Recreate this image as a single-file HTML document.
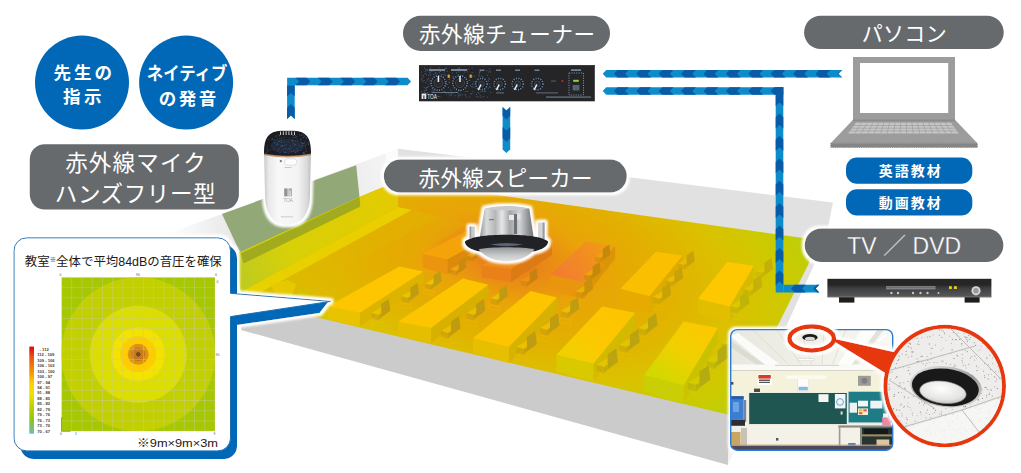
<!DOCTYPE html>
<html lang="ja"><head><meta charset="utf-8"><title>赤外線システム</title>
<style>
html,body{margin:0;padding:0;background:#fff;}
body{width:1021px;height:473px;overflow:hidden;font-family:"Liberation Sans","Noto Sans CJK JP",sans-serif;}
svg{display:block}
text{font-family:"Liberation Sans","Noto Sans CJK JP",sans-serif;}
.lt{font-weight:400;fill:#fff;}
.bd{font-weight:700;fill:#fff;}
</style></head><body>
<svg width="1021" height="473" viewBox="0 0 1021 473">
<defs>
<radialGradient id="heat" cx="0" cy="0" r="1" gradientUnits="userSpaceOnUse" gradientTransform="translate(508 258) rotate(13) scale(350 172)">
<stop offset="0" stop-color="#ea6c22"/><stop offset="0.1" stop-color="#ea8618"/><stop offset="0.25" stop-color="#e9a408"/><stop offset="0.45" stop-color="#e2b000"/><stop offset="0.65" stop-color="#dcc000"/><stop offset="0.8" stop-color="#cec900"/><stop offset="0.93" stop-color="#bfce08"/><stop offset="1" stop-color="#b6cc10"/>
</radialGradient>
<linearGradient id="lwall" x1="398" y1="160" x2="225" y2="215" gradientUnits="userSpaceOnUse"><stop offset="0" stop-color="#f6f6f6"/><stop offset="0.35" stop-color="#ebebeb"/><stop offset="1" stop-color="#e2e2e2"/></linearGradient>
<linearGradient id="lwallfade" x1="300" y1="212" x2="282" y2="168" gradientUnits="userSpaceOnUse"><stop offset="0" stop-color="#fff" stop-opacity="0"/><stop offset="1" stop-color="#fff" stop-opacity="1"/></linearGradient>
<linearGradient id="wf" x1="300" y1="186" x2="290" y2="160" gradientUnits="userSpaceOnUse"><stop offset="0" stop-color="#fff" stop-opacity="0"/><stop offset="1" stop-color="#fff" stop-opacity="1"/></linearGradient>
<linearGradient id="lband" x1="240" y1="270" x2="398" y2="195" gradientUnits="userSpaceOnUse"><stop offset="0" stop-color="#c0cb1e"/><stop offset="0.3" stop-color="#d8d008"/><stop offset="1" stop-color="#e4ca00"/></linearGradient>
<linearGradient id="gH" x1="552" y1="276" x2="612" y2="244" gradientUnits="userSpaceOnUse"><stop offset="0" stop-color="#f27a34"/><stop offset="0.5" stop-color="#f28a24"/><stop offset="1" stop-color="#f0a010"/></linearGradient>
<linearGradient id="gD" x1="575" y1="360" x2="620" y2="308" gradientUnits="userSpaceOnUse"><stop offset="0" stop-color="#f1d000"/><stop offset="0.4" stop-color="#fcc800"/><stop offset="1" stop-color="#fdc400"/></linearGradient>
<linearGradient id="gE" x1="664" y1="382" x2="702" y2="324" gradientUnits="userSpaceOnUse"><stop offset="0" stop-color="#d2d800"/><stop offset="0.5" stop-color="#f0d000"/><stop offset="1" stop-color="#fcc800"/></linearGradient>
<filter id="glow" x="-20%" y="-20%" width="140%" height="140%"><feMorphology in="SourceAlpha" operator="dilate" radius="2.4" result="d"/><feGaussianBlur in="d" stdDeviation="1.7" result="b"/><feFlood flood-color="#fff" result="f"/><feComposite in="f" in2="b" operator="in" result="g"/><feMerge><feMergeNode in="g"/><feMergeNode in="g"/><feMergeNode in="SourceGraphic"/></feMerge></filter>
</defs>
<g id="room">
<polygon points="241.0,299.0 730.0,414.0 728.0,465.0 241.0,330.0" fill="#cbcbcb" />
<polygon points="730.0,414.0 736.0,405.0 734.0,452.0 728.0,465.0" fill="#f3f3f3" />
<polygon points="398.0,148.7 833.0,202.5 828.0,227.0 813.5,266.0 785.0,329.0 746.0,415.0 398.0,300.0" fill="#e1e1e1" />
<polygon points="398.0,148.7 398.0,200.0 237.0,256.0 222.0,214.0" fill="url(#lwall)" />
<linearGradient id="wedge" x1="236" y1="0" x2="168" y2="0" gradientUnits="userSpaceOnUse"><stop offset="0" stop-color="#e6e6e6"/><stop offset="1" stop-color="#ffffff"/></linearGradient>
<polygon points="222.0,214.0 160.0,236.6 160.0,300.0 243.0,300.0 240.6,253.5" fill="url(#wedge)" />
<polygon points="398.0,148.7 398.0,190.0 385.0,195.0 386.0,153.0" fill="#fbfbfb" />
<polygon points="222.0,214.0 356.2,165.2 359.5,197.0 240.6,253.5" fill="#93a877" />
<polygon points="398.0,181.0 814.0,239.5 808.5,264.0 777.5,326.0 742.0,402.0 730.0,415.0 241.0,299.5 237.0,253.5 359.5,197.0" fill="url(#heat)" />
<polygon points="237.0,253.5 359.5,197.0 398.0,181.0 398.0,207.0 243.0,291.0" fill="url(#lband)" />
<polygon points="240.6,253.5 359.5,197.0 360.3,206.5 243.5,263.5" fill="#a2ab1e" />
<polygon points="243.0,291.0 398.0,207.0 412.0,210.0 256.0,295.0" fill="#ead200" opacity="0.9"/>
<polygon points="256.0,295.0 412.0,210.0 440.0,217.0 300.0,292.0 290.0,304.0" fill="#e0b400" opacity="0.6"/>
<polygon points="270.0,284.0 288.0,280.0 296.0,284.0 292.0,296.0 274.0,292.0" fill="#e8cc00" opacity="0.8"/>
<polygon points="300.0,292.0 440.0,217.0 470.0,223.0 335.0,301.0" fill="#e3ae00" opacity="0.35"/>
<polygon points="447.4,259.2 490.0,236.5 490.0,248.5 447.4,274.2" fill="#dc8a0c" />
<polygon points="422.6,253.8 447.4,259.2 447.4,274.2 422.6,267.6" fill="#ea9410" />
<polygon points="422.6,253.8 466.0,231.5 490.0,236.5 447.4,259.2" fill="#f4a408" />
<polygon points="511.0,268.9 552.0,243.0 552.0,255.0 511.0,281.9" fill="#dc7a14" />
<polygon points="481.9,265.6 511.0,268.9 511.0,281.9 481.9,277.6" fill="#e9801a" />
<polygon points="481.9,265.6 524.0,238.0 552.0,243.0 511.0,268.9" fill="#f08c1c" />
<polygon points="583.3,282.3 615.1,245.4 615.1,258.4 583.3,299.3" fill="#dc9408" />
<polygon points="550.2,274.7 583.3,282.3 583.3,299.3 550.2,290.3" fill="#e9960e" />
<polygon points="550.2,274.7 585.8,241.6 615.1,245.4 583.3,282.3" fill="url(#gH)" />
<polygon points="649.5,296.3 682.6,255.6 682.6,268.6 649.5,313.3" fill="#dcac00" />
<polygon points="620.2,288.7 649.5,296.3 649.5,313.3 620.2,304.3" fill="#e7aa00" />
<polygon points="620.2,288.7 655.9,251.7 682.6,255.6 649.5,296.3" fill="#f9bf00" />
<polygon points="729.7,306.5 753.9,265.7 753.9,278.7 729.7,322.5" fill="#d6ba00" />
<polygon points="697.9,298.8 729.7,306.5 729.7,322.5 697.9,313.5" fill="#e2be00" />
<polygon points="697.9,298.8 727.2,261.9 753.9,265.7 729.7,306.5" fill="#fdc800" />
<polygon points="449.2,275.4 459.4,277.5 458.6,281.4 448.4,279.2" fill="none" stroke="#efa410" stroke-width="0.6" opacity="0.7"/>
<polygon points="450.1,269.4 458.6,264.4 464.6,265.6 456.1,271.1" fill="#efa410" />
<polygon points="450.1,269.4 456.1,271.1 456.1,275.8 450.1,274.1" fill="#c98a10" opacity="0.45"/>
<polygon points="458.6,261.4 465.4,256.7 466.7,267.3 458.6,273.3" fill="#c98a10" />
<polygon points="456.1,271.1 458.6,269.4 458.6,273.3 456.1,275.8" fill="#c98a10" opacity="0.8"/>
<polygon points="466.0,261.2 475.6,263.2 474.8,266.8 465.2,264.8" fill="none" stroke="#ef9a10" stroke-width="0.6" opacity="0.7"/>
<polygon points="466.8,255.6 474.8,250.8 480.4,252.0 472.4,257.2" fill="#ef9a10" />
<polygon points="466.8,255.6 472.4,257.2 472.4,261.6 466.8,260.0" fill="#c88410" opacity="0.45"/>
<polygon points="474.8,248.0 481.2,243.6 482.4,253.6 474.8,259.2" fill="#c88410" />
<polygon points="472.4,257.2 474.8,255.6 474.8,259.2 472.4,261.6" fill="#c88410" opacity="0.8"/>
<polygon points="520.2,286.4 530.5,288.5 529.6,292.4 519.4,290.2" fill="none" stroke="#ee9410" stroke-width="0.6" opacity="0.7"/>
<polygon points="521.1,280.4 529.6,275.4 535.5,276.6 527.0,282.1" fill="#ee9410" />
<polygon points="521.1,280.4 527.0,282.1 527.0,286.8 521.1,285.1" fill="#c88010" opacity="0.45"/>
<polygon points="529.6,272.4 536.4,267.7 537.7,278.3 529.6,284.3" fill="#c88010" />
<polygon points="527.0,282.1 529.6,280.4 529.6,284.3 527.0,286.8" fill="#c88010" opacity="0.8"/>
<polygon points="594.0,262.2 603.6,264.2 602.8,267.8 593.2,265.8" fill="none" stroke="#efa00c" stroke-width="0.6" opacity="0.7"/>
<polygon points="594.8,256.6 602.8,251.8 608.4,253.0 600.4,258.2" fill="#efa00c" />
<polygon points="594.8,256.6 600.4,258.2 600.4,262.6 594.8,261.0" fill="#c4880c" opacity="0.45"/>
<polygon points="602.8,249.0 609.2,244.6 610.4,254.6 602.8,260.2" fill="#c4880c" />
<polygon points="600.4,258.2 602.8,256.6 602.8,260.2 600.4,262.6" fill="#c4880c" opacity="0.8"/>
<polygon points="583.2,280.4 593.5,282.5 592.6,286.4 582.4,284.2" fill="none" stroke="#eea20c" stroke-width="0.6" opacity="0.7"/>
<polygon points="584.1,274.4 592.6,269.4 598.5,270.6 590.0,276.1" fill="#eea20c" />
<polygon points="584.1,274.4 590.0,276.1 590.0,280.8 584.1,279.1" fill="#c4880c" opacity="0.45"/>
<polygon points="592.6,266.4 599.4,261.7 600.7,272.3 592.6,278.3" fill="#c4880c" />
<polygon points="590.0,276.1 592.6,274.4 592.6,278.3 590.0,280.8" fill="#c4880c" opacity="0.8"/>
<polygon points="574.5,297.6 585.3,299.9 584.4,303.9 573.6,301.6" fill="none" stroke="#eeae08" stroke-width="0.6" opacity="0.7"/>
<polygon points="575.4,291.3 584.4,285.9 590.7,287.2 581.7,293.1" fill="#eeae08" />
<polygon points="575.4,291.3 581.7,293.1 581.7,298.1 575.4,296.2" fill="#c8900c" opacity="0.45"/>
<polygon points="584.4,282.8 591.6,277.8 593.0,289.1 584.4,295.4" fill="#c8900c" />
<polygon points="581.7,293.1 584.4,291.3 584.4,295.4 581.7,298.1" fill="#c8900c" opacity="0.8"/>
<polygon points="677.2,269.4 687.5,271.5 686.6,275.4 676.4,273.2" fill="none" stroke="#ecbc00" stroke-width="0.6" opacity="0.7"/>
<polygon points="678.1,263.4 686.6,258.4 692.5,259.6 684.0,265.1" fill="#ecbc00" />
<polygon points="678.1,263.4 684.0,265.1 684.0,269.8 678.1,268.1" fill="#c8a208" opacity="0.45"/>
<polygon points="686.6,255.4 693.4,250.7 694.7,261.3 686.6,267.3" fill="#c8a208" />
<polygon points="684.0,265.1 686.6,263.4 686.6,267.3 684.0,269.8" fill="#c8a208" opacity="0.8"/>
<polygon points="664.5,286.6 675.3,288.9 674.4,292.9 663.6,290.6" fill="none" stroke="#ecbc00" stroke-width="0.6" opacity="0.7"/>
<polygon points="665.4,280.3 674.4,274.9 680.7,276.2 671.7,282.1" fill="#ecbc00" />
<polygon points="665.4,280.3 671.7,282.1 671.7,287.1 665.4,285.2" fill="#c8a208" opacity="0.45"/>
<polygon points="674.4,271.8 681.6,266.8 683.0,278.1 674.4,284.4" fill="#c8a208" />
<polygon points="671.7,282.1 674.4,280.3 674.4,284.4 671.7,287.1" fill="#c8a208" opacity="0.8"/>
<polygon points="651.8,303.8 663.1,306.2 662.2,310.4 650.8,308.1" fill="none" stroke="#ecbc00" stroke-width="0.6" opacity="0.7"/>
<polygon points="652.7,297.1 662.2,291.4 668.9,292.9 659.4,299.1" fill="#ecbc00" />
<polygon points="652.7,297.1 659.4,299.1 659.4,304.3 652.7,302.4" fill="#c8a208" opacity="0.45"/>
<polygon points="662.2,288.1 669.8,282.9 671.2,294.8 662.2,301.4" fill="#c8a208" />
<polygon points="659.4,299.1 662.2,297.1 662.2,301.4 659.4,304.3" fill="#c8a208" opacity="0.8"/>
<polygon points="754.5,277.6 765.3,279.9 764.4,283.9 753.6,281.6" fill="none" stroke="#e0c400" stroke-width="0.6" opacity="0.7"/>
<polygon points="755.4,271.3 764.4,265.9 770.7,267.2 761.7,273.1" fill="#e0c400" />
<polygon points="755.4,271.3 761.7,273.1 761.7,278.1 755.4,276.2" fill="#c4b008" opacity="0.45"/>
<polygon points="764.4,262.8 771.6,257.8 773.0,269.1 764.4,275.4" fill="#c4b008" />
<polygon points="761.7,273.1 764.4,271.3 764.4,275.4 761.7,278.1" fill="#c4b008" opacity="0.8"/>
<polygon points="742.8,295.8 754.1,298.2 753.2,302.4 741.8,300.1" fill="none" stroke="#e0c400" stroke-width="0.6" opacity="0.7"/>
<polygon points="743.7,289.1 753.2,283.4 759.9,284.9 750.4,291.1" fill="#e0c400" />
<polygon points="743.7,289.1 750.4,291.1 750.4,296.3 743.7,294.4" fill="#c4b008" opacity="0.45"/>
<polygon points="753.2,280.1 760.8,274.9 762.2,286.8 753.2,293.4" fill="#c4b008" />
<polygon points="750.4,291.1 753.2,289.1 753.2,293.4 750.4,296.3" fill="#c4b008" opacity="0.8"/>
<polygon points="729.0,313.0 741.0,315.5 740.0,320.0 728.0,317.5" fill="none" stroke="#dcc800" stroke-width="0.6" opacity="0.7"/>
<polygon points="730.0,306.0 740.0,300.0 747.0,301.5 737.0,308.0" fill="#dcc800" />
<polygon points="730.0,306.0 737.0,308.0 737.0,313.5 730.0,311.5" fill="#c0b408" opacity="0.45"/>
<polygon points="740.0,296.5 748.0,291.0 749.5,303.5 740.0,310.5" fill="#c0b408" />
<polygon points="737.0,308.0 740.0,306.0 740.0,310.5 737.0,313.5" fill="#c0b408" opacity="0.8"/>
<polygon points="359.8,312.8 423.5,271.5 423.5,282.5 359.8,326.8" fill="#dcb400" />
<polygon points="328.0,306.4 359.8,312.8 359.8,326.8 328.0,319.3" fill="#e9c200" />
<polygon points="328.0,306.4 399.3,266.4 423.5,271.5 359.8,312.8" fill="#fdc600" />
<polygon points="424.2,289.4 434.4,291.5 433.6,295.4 423.4,293.2" fill="none" stroke="#ecc200" stroke-width="0.6" opacity="0.7"/>
<polygon points="425.1,283.4 433.6,278.4 439.6,279.6 431.1,285.1" fill="#ecc200" />
<polygon points="425.1,283.4 431.1,285.1 431.1,289.8 425.1,288.1" fill="#c09c10" opacity="0.45"/>
<polygon points="433.6,275.4 440.4,270.7 441.7,281.3 433.6,287.3" fill="#c09c10" />
<polygon points="431.1,285.1 433.6,283.4 433.6,287.3 431.1,289.8" fill="#c09c10" opacity="0.8"/>
<polygon points="400.5,302.6 411.3,304.9 410.4,308.9 399.6,306.6" fill="none" stroke="#ecc200" stroke-width="0.6" opacity="0.7"/>
<polygon points="401.4,296.3 410.4,290.9 416.7,292.2 407.7,298.1" fill="#ecc200" />
<polygon points="401.4,296.3 407.7,298.1 407.7,303.1 401.4,301.2" fill="#c09c10" opacity="0.45"/>
<polygon points="410.4,287.8 417.6,282.8 418.9,294.1 410.4,300.4" fill="#c09c10" />
<polygon points="407.7,298.1 410.4,296.3 410.4,300.4 407.7,303.1" fill="#c09c10" opacity="0.8"/>
<polygon points="370.8,319.8 382.1,322.2 381.2,326.4 369.8,324.1" fill="none" stroke="#ecc200" stroke-width="0.6" opacity="0.7"/>
<polygon points="371.7,313.1 381.2,307.4 387.9,308.9 378.4,315.1" fill="#ecc200" />
<polygon points="371.7,313.1 378.4,315.1 378.4,320.3 371.7,318.4" fill="#c09c10" opacity="0.45"/>
<polygon points="381.2,304.1 388.8,298.9 390.2,310.8 381.2,317.4" fill="#c09c10" />
<polygon points="378.4,315.1 381.2,313.1 381.2,317.4 378.4,320.3" fill="#c09c10" opacity="0.8"/>
<polygon points="431.0,328.0 488.4,284.7 488.4,296.7 431.0,343.0" fill="#d8b000" />
<polygon points="398.0,321.7 431.0,328.0 431.0,343.0 398.0,335.5" fill="#e6be00" />
<polygon points="398.0,321.7 463.0,278.4 488.4,284.7 431.0,328.0" fill="#fdc400" />
<polygon points="489.5,304.6 500.3,306.9 499.4,310.9 488.6,308.6" fill="none" stroke="#ecbe00" stroke-width="0.6" opacity="0.7"/>
<polygon points="490.4,298.3 499.4,292.9 505.7,294.2 496.7,300.1" fill="#ecbe00" />
<polygon points="490.4,298.3 496.7,300.1 496.7,305.1 490.4,303.2" fill="#c09a10" opacity="0.45"/>
<polygon points="499.4,289.8 506.6,284.8 507.9,296.1 499.4,302.4" fill="#c09a10" />
<polygon points="496.7,300.1 499.4,298.3 499.4,302.4 496.7,305.1" fill="#c09a10" opacity="0.8"/>
<polygon points="465.8,319.8 477.1,322.2 476.2,326.4 464.8,324.1" fill="none" stroke="#ecbe00" stroke-width="0.6" opacity="0.7"/>
<polygon points="466.7,313.1 476.2,307.4 482.9,308.9 473.4,315.1" fill="#ecbe00" />
<polygon points="466.7,313.1 473.4,315.1 473.4,320.3 466.7,318.4" fill="#c09a10" opacity="0.45"/>
<polygon points="476.2,304.1 483.8,298.9 485.2,310.8 476.2,317.4" fill="#c09a10" />
<polygon points="473.4,315.1 476.2,313.1 476.2,317.4 473.4,320.3" fill="#c09a10" opacity="0.8"/>
<polygon points="440.0,338.0 452.0,340.5 451.0,345.0 439.0,342.5" fill="none" stroke="#ecbe00" stroke-width="0.6" opacity="0.7"/>
<polygon points="441.0,331.0 451.0,325.0 458.0,326.5 448.0,333.0" fill="#ecbe00" />
<polygon points="441.0,331.0 448.0,333.0 448.0,338.5 441.0,336.5" fill="#c09a10" opacity="0.45"/>
<polygon points="451.0,321.5 459.0,316.0 460.5,328.5 451.0,335.5" fill="#c09a10" />
<polygon points="448.0,333.0 451.0,331.0 451.0,335.5 448.0,338.5" fill="#c09a10" opacity="0.8"/>
<polygon points="508.8,347.0 557.0,297.5 557.0,310.5 508.8,363.0" fill="#d8b200" />
<polygon points="473.0,338.2 508.8,347.0 508.8,363.0 473.0,352.9" fill="#e6c000" />
<polygon points="473.0,338.2 530.5,291.0 557.0,297.5 508.8,347.0" fill="#fdc400" />
<polygon points="559.8,317.8 571.1,320.2 570.2,324.4 558.8,322.1" fill="none" stroke="#ecc000" stroke-width="0.6" opacity="0.7"/>
<polygon points="560.7,311.1 570.2,305.4 576.9,306.9 567.4,313.1" fill="#ecc000" />
<polygon points="560.7,311.1 567.4,313.1 567.4,318.3 560.7,316.4" fill="#c09c10" opacity="0.45"/>
<polygon points="570.2,302.1 577.8,296.9 579.2,308.8 570.2,315.4" fill="#c09c10" />
<polygon points="567.4,313.1 570.2,311.1 570.2,315.4 567.4,318.3" fill="#c09c10" opacity="0.8"/>
<polygon points="539.0,335.0 551.0,337.5 550.0,342.0 538.0,339.5" fill="none" stroke="#ecc000" stroke-width="0.6" opacity="0.7"/>
<polygon points="540.0,328.0 550.0,322.0 557.0,323.5 547.0,330.0" fill="#ecc000" />
<polygon points="540.0,328.0 547.0,330.0 547.0,335.5 540.0,333.5" fill="#c09c10" opacity="0.45"/>
<polygon points="550.0,318.5 558.0,313.0 559.5,325.5 550.0,332.5" fill="#c09c10" />
<polygon points="547.0,330.0 550.0,328.0 550.0,332.5 547.0,335.5" fill="#c09c10" opacity="0.8"/>
<polygon points="515.2,354.2 527.9,356.8 526.8,361.6 514.2,358.9" fill="none" stroke="#ecc000" stroke-width="0.6" opacity="0.7"/>
<polygon points="516.3,346.9 526.8,340.6 534.1,342.1 523.6,348.9" fill="#ecc000" />
<polygon points="516.3,346.9 523.6,348.9 523.6,354.7 516.3,352.6" fill="#c09c10" opacity="0.45"/>
<polygon points="526.8,336.9 535.2,331.1 536.8,344.2 526.8,351.6" fill="#c09c10" />
<polygon points="523.6,348.9 526.8,346.9 526.8,351.6 523.6,354.7" fill="#c09c10" opacity="0.8"/>
<polygon points="593.3,363.7 635.3,312.7 635.3,326.7 593.3,381.7" fill="#d2ba00" />
<polygon points="556.4,354.7 593.3,363.7 593.3,381.7 556.4,371.3" fill="#d9ca00" />
<polygon points="556.4,354.7 602.2,306.4 635.3,312.7 593.3,363.7" fill="url(#gD)" />
<polygon points="637.0,335.0 649.0,337.5 648.0,342.0 636.0,339.5" fill="none" stroke="#e2c400" stroke-width="0.6" opacity="0.7"/>
<polygon points="638.0,328.0 648.0,322.0 655.0,323.5 645.0,330.0" fill="#e2c400" />
<polygon points="638.0,328.0 645.0,330.0 645.0,335.5 638.0,333.5" fill="#bca410" opacity="0.45"/>
<polygon points="648.0,318.5 656.0,313.0 657.5,325.5 648.0,332.5" fill="#bca410" />
<polygon points="645.0,330.0 648.0,328.0 648.0,332.5 645.0,335.5" fill="#bca410" opacity="0.8"/>
<polygon points="618.2,352.2 630.9,354.8 629.8,359.6 617.2,356.9" fill="none" stroke="#e2c400" stroke-width="0.6" opacity="0.7"/>
<polygon points="619.3,344.9 629.8,338.6 637.1,340.1 626.6,346.9" fill="#e2c400" />
<polygon points="619.3,344.9 626.6,346.9 626.6,352.7 619.3,350.6" fill="#bca410" opacity="0.45"/>
<polygon points="629.8,334.9 638.2,329.1 639.8,342.2 629.8,349.6" fill="#bca410" />
<polygon points="626.6,346.9 629.8,344.9 629.8,349.6 626.6,352.7" fill="#bca410" opacity="0.8"/>
<polygon points="595.5,372.4 608.7,375.1 607.6,380.1 594.4,377.4" fill="none" stroke="#e2c400" stroke-width="0.6" opacity="0.7"/>
<polygon points="596.6,364.7 607.6,358.1 615.3,359.8 604.3,366.9" fill="#e2c400" />
<polygon points="596.6,364.7 604.3,366.9 604.3,372.9 596.6,370.8" fill="#bca410" opacity="0.45"/>
<polygon points="607.6,354.2 616.4,348.2 618.0,361.9 607.6,369.6" fill="#bca410" />
<polygon points="604.3,366.9 607.6,364.7 607.6,369.6 604.3,372.9" fill="#bca410" opacity="0.8"/>
<polygon points="683.7,385.3 718.0,328.0 718.0,342.0 683.7,403.3" fill="#cac200" />
<polygon points="644.2,375.0 683.7,385.3 683.7,403.3 644.2,391.6" fill="#c9cf04" />
<polygon points="644.2,375.0 683.7,321.6 718.0,328.0 683.7,385.3" fill="url(#gE)" />
<polygon points="720.2,350.2 732.9,352.8 731.8,357.6 719.2,354.9" fill="none" stroke="#d4cc00" stroke-width="0.6" opacity="0.7"/>
<polygon points="721.3,342.9 731.8,336.6 739.1,338.1 728.6,344.9" fill="#d4cc00" />
<polygon points="721.3,342.9 728.6,344.9 728.6,350.7 721.3,348.6" fill="#b4ac10" opacity="0.45"/>
<polygon points="731.8,332.9 740.2,327.1 741.8,340.2 731.8,347.6" fill="#b4ac10" />
<polygon points="728.6,344.9 731.8,342.9 731.8,347.6 728.6,350.7" fill="#b4ac10" opacity="0.8"/>
<polygon points="705.5,368.4 718.7,371.1 717.6,376.1 704.4,373.4" fill="none" stroke="#d4cc00" stroke-width="0.6" opacity="0.7"/>
<polygon points="706.6,360.7 717.6,354.1 725.3,355.8 714.3,362.9" fill="#d4cc00" />
<polygon points="706.6,360.7 714.3,362.9 714.3,368.9 706.6,366.8" fill="#b4ac10" opacity="0.45"/>
<polygon points="717.6,350.2 726.4,344.2 728.0,357.9 717.6,365.6" fill="#b4ac10" />
<polygon points="714.3,362.9 717.6,360.7 717.6,365.6 714.3,368.9" fill="#b4ac10" opacity="0.8"/>
<polygon points="686.8,390.6 700.5,393.5 699.4,398.6 685.6,395.8" fill="none" stroke="#d4cc00" stroke-width="0.6" opacity="0.7"/>
<polygon points="687.9,382.6 699.4,375.6 707.5,377.4 696.0,384.9" fill="#d4cc00" />
<polygon points="687.9,382.6 696.0,384.9 696.0,391.2 687.9,388.9" fill="#b4ac10" opacity="0.45"/>
<polygon points="699.4,371.6 708.6,365.3 710.3,379.7 699.4,387.7" fill="#b4ac10" />
<polygon points="696.0,384.9 699.4,382.6 699.4,387.7 696.0,391.2" fill="#b4ac10" opacity="0.8"/>
</g>
<g id="arrows">
<polygon points="287.1,119.2 287.1,85.3 294.7,85.3 294.7,119.2 290.9,115.6" fill="#0d8bcb" />
<polygon points="287.1,96.5 287.1,85.3 290.9,85.3 294.7,85.3 294.7,96.5 290.9,92.9" fill="#0a5ba6" />
<polygon points="287.1,118.9 287.1,107.7 290.9,104.1 294.7,107.7 294.7,118.9 290.9,115.3" fill="#0a5ba6" />
<polygon points="287.1,77.7 407.5,77.7 411.1,81.5 407.5,85.3 287.1,85.3" fill="#0d8bcb" />
<polygon points="385.1,77.7 396.3,77.7 399.9,81.5 396.3,85.3 385.1,85.3 388.7,81.5" fill="#0a5ba6" />
<polygon points="362.7,77.7 373.9,77.7 377.5,81.5 373.9,85.3 362.7,85.3 366.3,81.5" fill="#0a5ba6" />
<polygon points="340.3,77.7 351.5,77.7 355.1,81.5 351.5,85.3 340.3,85.3 343.9,81.5" fill="#0a5ba6" />
<polygon points="317.9,77.7 329.1,77.7 332.7,81.5 329.1,85.3 317.9,85.3 321.5,81.5" fill="#0a5ba6" />
<polygon points="295.5,77.7 306.7,77.7 310.3,81.5 306.7,85.3 295.5,85.3 299.1,81.5" fill="#0a5ba6" />
<polygon points="510.2,107.0 510.2,149.4 506.4,153.0 502.6,149.4 502.6,107.0 506.4,110.6" fill="#0d8bcb" />
<polygon points="510.2,127.0 510.2,138.2 506.4,141.8 502.6,138.2 502.6,127.0 506.4,130.6" fill="#0a5ba6" />
<polygon points="510.2,107.0 510.2,115.8 506.4,119.4 502.6,115.8 502.6,107.0 506.4,110.6" fill="#0a5ba6" />
<polygon points="842.1,77.6 606.3,77.6 602.7,73.8 606.3,70.0 842.1,70.0 838.5,73.8" fill="#0d8bcb" />
<polygon points="628.7,77.6 617.5,77.6 613.9,73.8 617.5,70.0 628.7,70.0 625.1,73.8" fill="#0a5ba6" />
<polygon points="651.1,77.6 639.9,77.6 636.3,73.8 639.9,70.0 651.1,70.0 647.5,73.8" fill="#0a5ba6" />
<polygon points="673.5,77.6 662.3,77.6 658.7,73.8 662.3,70.0 673.5,70.0 669.9,73.8" fill="#0a5ba6" />
<polygon points="695.9,77.6 684.7,77.6 681.1,73.8 684.7,70.0 695.9,70.0 692.3,73.8" fill="#0a5ba6" />
<polygon points="718.3,77.6 707.1,77.6 703.5,73.8 707.1,70.0 718.3,70.0 714.7,73.8" fill="#0a5ba6" />
<polygon points="740.7,77.6 729.5,77.6 725.9,73.8 729.5,70.0 740.7,70.0 737.1,73.8" fill="#0a5ba6" />
<polygon points="763.1,77.6 751.9,77.6 748.3,73.8 751.9,70.0 763.1,70.0 759.5,73.8" fill="#0a5ba6" />
<polygon points="785.5,77.6 774.3,77.6 770.7,73.8 774.3,70.0 785.5,70.0 781.9,73.8" fill="#0a5ba6" />
<polygon points="807.9,77.6 796.7,77.6 793.1,73.8 796.7,70.0 807.9,70.0 804.3,73.8" fill="#0a5ba6" />
<polygon points="830.3,77.6 819.1,77.6 815.5,73.8 819.1,70.0 830.3,70.0 826.7,73.8" fill="#0a5ba6" />
<polygon points="842.1,77.6 841.5,77.6 837.9,73.8 841.5,70.0 842.1,70.0 838.5,73.8" fill="#0a5ba6" />
<polygon points="819.3,292.4 783.3,292.4 783.3,284.8 819.3,284.8 815.7,288.6" fill="#0d8bcb" />
<polygon points="805.7,292.4 794.5,292.4 790.9,288.6 794.5,284.8 805.7,284.8 802.1,288.6" fill="#0a5ba6" />
<polygon points="819.3,292.4 816.9,292.4 813.3,288.6 816.9,284.8 819.3,284.8 815.7,288.6" fill="#0a5ba6" />
<polygon points="775.7,292.4 775.7,94.8 783.3,94.8 783.3,292.4" fill="#0d8bcb" />
<polygon points="775.7,106.0 775.7,94.8 779.5,94.8 783.3,94.8 783.3,106.0 779.5,102.4" fill="#0a5ba6" />
<polygon points="775.7,128.4 775.7,117.2 779.5,113.6 783.3,117.2 783.3,128.4 779.5,124.8" fill="#0a5ba6" />
<polygon points="775.7,150.8 775.7,139.6 779.5,136.0 783.3,139.6 783.3,150.8 779.5,147.2" fill="#0a5ba6" />
<polygon points="775.7,173.2 775.7,162.0 779.5,158.4 783.3,162.0 783.3,173.2 779.5,169.6" fill="#0a5ba6" />
<polygon points="775.7,195.6 775.7,184.4 779.5,180.8 783.3,184.4 783.3,195.6 779.5,192.0" fill="#0a5ba6" />
<polygon points="775.7,218.0 775.7,206.8 779.5,203.2 783.3,206.8 783.3,218.0 779.5,214.4" fill="#0a5ba6" />
<polygon points="775.7,240.4 775.7,229.2 779.5,225.6 783.3,229.2 783.3,240.4 779.5,236.8" fill="#0a5ba6" />
<polygon points="775.7,262.8 775.7,251.6 779.5,248.0 783.3,251.6 783.3,262.8 779.5,259.2" fill="#0a5ba6" />
<polygon points="775.7,285.2 775.7,274.0 779.5,270.4 783.3,274.0 783.3,285.2 779.5,281.6" fill="#0a5ba6" />
<polygon points="783.3,94.8 606.3,94.8 602.7,91.0 606.3,87.2 783.3,87.2" fill="#0d8bcb" />
<polygon points="628.7,94.8 617.5,94.8 613.9,91.0 617.5,87.2 628.7,87.2 625.1,91.0" fill="#0a5ba6" />
<polygon points="651.1,94.8 639.9,94.8 636.3,91.0 639.9,87.2 651.1,87.2 647.5,91.0" fill="#0a5ba6" />
<polygon points="673.5,94.8 662.3,94.8 658.7,91.0 662.3,87.2 673.5,87.2 669.9,91.0" fill="#0a5ba6" />
<polygon points="695.9,94.8 684.7,94.8 681.1,91.0 684.7,87.2 695.9,87.2 692.3,91.0" fill="#0a5ba6" />
<polygon points="718.3,94.8 707.1,94.8 703.5,91.0 707.1,87.2 718.3,87.2 714.7,91.0" fill="#0a5ba6" />
<polygon points="740.7,94.8 729.5,94.8 725.9,91.0 729.5,87.2 740.7,87.2 737.1,91.0" fill="#0a5ba6" />
<polygon points="763.1,94.8 751.9,94.8 748.3,91.0 751.9,87.2 763.1,87.2 759.5,91.0" fill="#0a5ba6" />
<polygon points="783.3,94.8 774.3,94.8 770.7,91.0 774.3,87.2 783.3,87.2" fill="#0a5ba6" />
<polygon points="775.7,87.2 783.3,87.2 783.3,94.8 775.7,94.8" fill="#0a5ba6" />
</g>
<g id="tuner">
<rect x="419" y="65" width="175.8" height="36.3" fill="#252527"/>
<rect x="419" y="65" width="175.8" height="1.2" fill="#3a3a3c"/>
<g fill="#4d6f93" opacity="0.8"><rect x="443.7" y="71.5" width="1" height="1"/><rect x="466.6" y="69.2" width="1" height="1"/><rect x="458.5" y="78.0" width="1" height="1"/><rect x="425.1" y="82.2" width="1" height="1"/><rect x="423.6" y="80.0" width="1" height="1"/><rect x="425.9" y="69.7" width="1" height="1"/><rect x="450.7" y="91.8" width="1" height="1"/><rect x="429.7" y="73.7" width="1" height="1"/><rect x="464.9" y="95.4" width="1" height="1"/><rect x="461.4" y="78.9" width="1" height="1"/><rect x="489.3" y="68.4" width="1" height="1"/><rect x="481.1" y="75.7" width="1" height="1"/><rect x="431.1" y="70.5" width="1" height="1"/><rect x="442.6" y="91.5" width="1" height="1"/><rect x="433.7" y="84.4" width="1" height="1"/><rect x="465.7" y="78.2" width="1" height="1"/><rect x="459.3" y="68.9" width="1" height="1"/><rect x="425.2" y="73.2" width="1" height="1"/><rect x="468.6" y="79.8" width="1" height="1"/><rect x="443.0" y="84.6" width="1" height="1"/><rect x="452.7" y="76.0" width="1" height="1"/><rect x="476.6" y="88.0" width="1" height="1"/><rect x="438.1" y="84.2" width="1" height="1"/><rect x="457.8" y="93.3" width="1" height="1"/><rect x="472.1" y="75.6" width="1" height="1"/><rect x="489.6" y="70.5" width="1" height="1"/><rect x="450.3" y="89.7" width="1" height="1"/><rect x="431.6" y="81.7" width="1" height="1"/><rect x="423.7" y="87.0" width="1" height="1"/><rect x="474.5" y="84.2" width="1" height="1"/><rect x="482.3" y="76.4" width="1" height="1"/><rect x="469.7" y="84.8" width="1" height="1"/><rect x="461.6" y="80.7" width="1" height="1"/><rect x="479.8" y="95.3" width="1" height="1"/><rect x="454.2" y="86.9" width="1" height="1"/><rect x="425.2" y="88.0" width="1" height="1"/><rect x="466.3" y="96.8" width="1" height="1"/><rect x="478.5" y="75.5" width="1" height="1"/><rect x="448.0" y="87.1" width="1" height="1"/><rect x="422.6" y="80.9" width="1" height="1"/><rect x="432.8" y="70.5" width="1" height="1"/><rect x="425.1" y="90.0" width="1" height="1"/><rect x="430.1" y="74.4" width="1" height="1"/><rect x="448.4" y="93.1" width="1" height="1"/><rect x="426.6" y="80.5" width="1" height="1"/><rect x="459.5" y="93.5" width="1" height="1"/><rect x="478.3" y="92.9" width="1" height="1"/><rect x="440.5" y="79.5" width="1" height="1"/><rect x="446.1" y="93.5" width="1" height="1"/><rect x="488.0" y="71.5" width="1" height="1"/><rect x="433.3" y="74.0" width="1" height="1"/><rect x="437.3" y="81.5" width="1" height="1"/><rect x="462.2" y="74.9" width="1" height="1"/><rect x="421.3" y="79.6" width="1" height="1"/><rect x="446.8" y="84.0" width="1" height="1"/><rect x="487.7" y="87.7" width="1" height="1"/><rect x="457.1" y="85.5" width="1" height="1"/><rect x="468.3" y="68.6" width="1" height="1"/><rect x="484.0" y="90.4" width="1" height="1"/><rect x="482.2" y="90.9" width="1" height="1"/><rect x="448.5" y="79.0" width="1" height="1"/><rect x="428.2" y="86.0" width="1" height="1"/><rect x="425.4" y="69.0" width="1" height="1"/><rect x="435.6" y="71.9" width="1" height="1"/><rect x="444.8" y="68.6" width="1" height="1"/><rect x="421.0" y="71.5" width="1" height="1"/><rect x="428.1" y="77.9" width="1" height="1"/><rect x="422.8" y="93.2" width="1" height="1"/><rect x="464.0" y="71.5" width="1" height="1"/><rect x="438.7" y="77.4" width="1" height="1"/><rect x="446.5" y="70.7" width="1" height="1"/><rect x="480.4" y="96.8" width="1" height="1"/><rect x="453.6" y="81.5" width="1" height="1"/><rect x="427.0" y="70.1" width="1" height="1"/><rect x="445.0" y="74.9" width="1" height="1"/><rect x="479.0" y="71.8" width="1" height="1"/><rect x="422.6" y="95.5" width="1" height="1"/><rect x="458.0" y="71.4" width="1" height="1"/><rect x="459.0" y="67.8" width="1" height="1"/><rect x="458.0" y="96.4" width="1" height="1"/><rect x="481.4" y="87.9" width="1" height="1"/><rect x="439.3" y="78.0" width="1" height="1"/><rect x="432.7" y="90.2" width="1" height="1"/><rect x="458.3" y="90.4" width="1" height="1"/><rect x="444.1" y="73.7" width="1" height="1"/><rect x="477.8" y="96.5" width="1" height="1"/><rect x="480.7" y="91.2" width="1" height="1"/><rect x="478.3" y="89.2" width="1" height="1"/><rect x="436.9" y="82.5" width="1" height="1"/><rect x="445.9" y="67.9" width="1" height="1"/><rect x="423.0" y="75.4" width="1" height="1"/><rect x="439.1" y="87.8" width="1" height="1"/><rect x="488.0" y="80.4" width="1" height="1"/><rect x="486.6" y="96.6" width="1" height="1"/><rect x="487.9" y="77.9" width="1" height="1"/><rect x="436.4" y="73.8" width="1" height="1"/><rect x="434.8" y="73.1" width="1" height="1"/><rect x="464.7" y="94.0" width="1" height="1"/><rect x="479.8" y="81.4" width="1" height="1"/><rect x="466.7" y="91.0" width="1" height="1"/><rect x="426.9" y="86.8" width="1" height="1"/><rect x="484.7" y="90.5" width="1" height="1"/><rect x="473.5" y="81.3" width="1" height="1"/><rect x="433.5" y="90.7" width="1" height="1"/><rect x="444.3" y="91.0" width="1" height="1"/><rect x="489.0" y="78.9" width="1" height="1"/><rect x="449.1" y="95.4" width="1" height="1"/><rect x="471.7" y="72.1" width="1" height="1"/><rect x="429.9" y="71.5" width="1" height="1"/><rect x="484.3" y="91.2" width="1" height="1"/><rect x="431.2" y="91.8" width="1" height="1"/><rect x="489.6" y="86.7" width="1" height="1"/><rect x="445.5" y="83.5" width="1" height="1"/><rect x="430.2" y="67.4" width="1" height="1"/><rect x="489.0" y="86.5" width="1" height="1"/><rect x="457.9" y="95.0" width="1" height="1"/><rect x="451.4" y="93.2" width="1" height="1"/><rect x="478.8" y="73.3" width="1" height="1"/><rect x="438.6" y="75.8" width="1" height="1"/><rect x="437.8" y="84.6" width="1" height="1"/><rect x="439.2" y="79.6" width="1" height="1"/><rect x="430.2" y="94.3" width="1" height="1"/><rect x="445.8" y="80.7" width="1" height="1"/><rect x="461.8" y="94.1" width="1" height="1"/><rect x="450.4" y="94.5" width="1" height="1"/><rect x="456.1" y="83.0" width="1" height="1"/><rect x="457.6" y="67.6" width="1" height="1"/><rect x="451.8" y="72.5" width="1" height="1"/><rect x="421.3" y="91.0" width="1" height="1"/><rect x="433.1" y="81.2" width="1" height="1"/><rect x="471.8" y="83.7" width="1" height="1"/><rect x="443.8" y="82.6" width="1" height="1"/><rect x="459.9" y="90.5" width="1" height="1"/><rect x="428.4" y="83.8" width="1" height="1"/><rect x="438.4" y="75.3" width="1" height="1"/><rect x="475.1" y="82.2" width="1" height="1"/><rect x="460.3" y="89.8" width="1" height="1"/><rect x="484.9" y="80.3" width="1" height="1"/><rect x="463.9" y="82.2" width="1" height="1"/><rect x="456.9" y="87.8" width="1" height="1"/><rect x="452.7" y="83.0" width="1" height="1"/><rect x="454.5" y="95.2" width="1" height="1"/><rect x="469.9" y="93.3" width="1" height="1"/><rect x="487.0" y="74.8" width="1" height="1"/><rect x="460.2" y="95.3" width="1" height="1"/><rect x="479.8" y="71.1" width="1" height="1"/><rect x="429.5" y="80.3" width="1" height="1"/><rect x="426.1" y="74.2" width="1" height="1"/><rect x="426.1" y="87.1" width="1" height="1"/><rect x="475.9" y="93.9" width="1" height="1"/><rect x="431.8" y="88.5" width="1" height="1"/><rect x="467.2" y="71.3" width="1" height="1"/><rect x="482.8" y="96.0" width="1" height="1"/><rect x="436.4" y="95.6" width="1" height="1"/><rect x="448.9" y="81.6" width="1" height="1"/><rect x="490.3" y="92.0" width="1" height="1"/><rect x="432.3" y="79.9" width="1" height="1"/><rect x="457.1" y="77.2" width="1" height="1"/><rect x="434.7" y="76.6" width="1" height="1"/><rect x="471.6" y="67.6" width="1" height="1"/><rect x="459.8" y="80.2" width="1" height="1"/><rect x="422.3" y="76.9" width="1" height="1"/><rect x="464.7" y="82.4" width="1" height="1"/><rect x="425.5" y="96.6" width="1" height="1"/><rect x="476.2" y="96.2" width="1" height="1"/><rect x="428.3" y="75.0" width="1" height="1"/><rect x="423.8" y="90.4" width="1" height="1"/><rect x="439.9" y="70.9" width="1" height="1"/><rect x="450.6" y="94.3" width="1" height="1"/><rect x="478.3" y="74.8" width="1" height="1"/><rect x="431.5" y="94.6" width="1" height="1"/><rect x="460.9" y="88.0" width="1" height="1"/><rect x="427.3" y="68.7" width="1" height="1"/><rect x="469.2" y="79.8" width="1" height="1"/><rect x="426.1" y="95.2" width="1" height="1"/><rect x="465.4" y="91.0" width="1" height="1"/><rect x="426.9" y="92.7" width="1" height="1"/><rect x="425.7" y="92.9" width="1" height="1"/><rect x="452.8" y="77.2" width="1" height="1"/><rect x="459.7" y="94.8" width="1" height="1"/><rect x="439.8" y="70.9" width="1" height="1"/><rect x="457.9" y="74.2" width="1" height="1"/><rect x="428.7" y="71.8" width="1" height="1"/><rect x="424.5" y="73.1" width="1" height="1"/><rect x="442.8" y="76.2" width="1" height="1"/><rect x="474.2" y="75.7" width="1" height="1"/><rect x="456.0" y="72.3" width="1" height="1"/><rect x="445.3" y="67.5" width="1" height="1"/><rect x="438.5" y="67.5" width="1" height="1"/><rect x="472.3" y="83.5" width="1" height="1"/><rect x="434.3" y="81.2" width="1" height="1"/><rect x="486.4" y="70.2" width="1" height="1"/><rect x="478.3" y="80.0" width="1" height="1"/><rect x="455.7" y="92.0" width="1" height="1"/><rect x="448.5" y="82.2" width="1" height="1"/><rect x="469.1" y="96.5" width="1" height="1"/><rect x="445.0" y="92.0" width="1" height="1"/><rect x="470.5" y="86.1" width="1" height="1"/><rect x="449.3" y="77.4" width="1" height="1"/><rect x="424.8" y="70.9" width="1" height="1"/><rect x="426.0" y="89.2" width="1" height="1"/><rect x="438.9" y="71.9" width="1" height="1"/><rect x="426.9" y="92.2" width="1" height="1"/><rect x="481.9" y="87.1" width="1" height="1"/><rect x="440.7" y="74.3" width="1" height="1"/><rect x="441.5" y="80.8" width="1" height="1"/><rect x="432.0" y="80.4" width="1" height="1"/><rect x="439.4" y="95.9" width="1" height="1"/><rect x="489.1" y="83.4" width="1" height="1"/><rect x="438.1" y="96.0" width="1" height="1"/><rect x="442.7" y="77.7" width="1" height="1"/><rect x="421.1" y="78.4" width="1" height="1"/><rect x="454.2" y="82.1" width="1" height="1"/><rect x="435.1" y="82.1" width="1" height="1"/><rect x="421.3" y="74.9" width="1" height="1"/><rect x="427.3" y="79.0" width="1" height="1"/><rect x="423.9" y="67.7" width="1" height="1"/><rect x="442.3" y="74.0" width="1" height="1"/><rect x="462.0" y="82.9" width="1" height="1"/><rect x="473.5" y="86.7" width="1" height="1"/><rect x="471.1" y="93.4" width="1" height="1"/><rect x="448.3" y="76.8" width="1" height="1"/><rect x="489.9" y="71.5" width="1" height="1"/><rect x="471.7" y="86.3" width="1" height="1"/><rect x="424.1" y="92.1" width="1" height="1"/><rect x="483.4" y="85.8" width="1" height="1"/><rect x="472.4" y="91.4" width="1" height="1"/><rect x="430.8" y="82.7" width="1" height="1"/><rect x="456.3" y="92.0" width="1" height="1"/><rect x="477.3" y="91.8" width="1" height="1"/></g>
<circle cx="438.4" cy="83" r="7.2" fill="#1c1c1e" stroke="#6d8fb2" stroke-width="1.6" stroke-dasharray="1 1.4"/>
<circle cx="438.4" cy="83" r="4.6" fill="#2b2b2f" stroke="#3f4f63" stroke-width="0.8"/>
<line x1="438.4" y1="82" x2="438.4" y2="76" stroke="#f2f2f2" stroke-width="1.5"/>
<circle cx="460" cy="83" r="7.2" fill="#1c1c1e" stroke="#6d8fb2" stroke-width="1.6" stroke-dasharray="1 1.4"/>
<circle cx="460" cy="83" r="4.6" fill="#2b2b2f" stroke="#3f4f63" stroke-width="0.8"/>
<line x1="460" y1="82" x2="460" y2="76" stroke="#f2f2f2" stroke-width="1.5"/>
<circle cx="481.5" cy="84" r="5.6" fill="#1c1c1e" stroke="#6d8fb2" stroke-width="1.6" stroke-dasharray="1 1.4"/>
<circle cx="481.5" cy="84" r="3.0" fill="#2b2b2f" stroke="#3f4f63" stroke-width="0.8"/>
<line x1="481.0" y1="84.5" x2="478.3" y2="90" stroke="#f2f2f2" stroke-width="1.5"/>
<circle cx="499.7" cy="84" r="5.6" fill="#1c1c1e" stroke="#6d8fb2" stroke-width="1.6" stroke-dasharray="1 1.4"/>
<circle cx="499.7" cy="84" r="3.0" fill="#2b2b2f" stroke="#3f4f63" stroke-width="0.8"/>
<line x1="499.2" y1="84.5" x2="496.5" y2="90" stroke="#f2f2f2" stroke-width="1.5"/>
<circle cx="517.7" cy="84" r="5.6" fill="#1c1c1e" stroke="#6d8fb2" stroke-width="1.6" stroke-dasharray="1 1.4"/>
<circle cx="517.7" cy="84" r="3.0" fill="#2b2b2f" stroke="#3f4f63" stroke-width="0.8"/>
<line x1="517.2" y1="84.5" x2="514.5" y2="90" stroke="#f2f2f2" stroke-width="1.5"/>
<circle cx="537.3" cy="84" r="5.6" fill="#1c1c1e" stroke="#6d8fb2" stroke-width="1.6" stroke-dasharray="1 1.4"/>
<circle cx="537.3" cy="84" r="3.0" fill="#2b2b2f" stroke="#3f4f63" stroke-width="0.8"/>
<line x1="536.8" y1="84.5" x2="534.0999999999999" y2="90" stroke="#f2f2f2" stroke-width="1.5"/>
<rect x="447.6" y="74.6" width="2.2" height="3.2" fill="#f0a020"/><rect x="469.6" y="74.6" width="2.2" height="3.2" fill="#f0a020"/>
<g fill="#8fa9c4">
<rect x="429" y="69.2" width="16" height="1.6" opacity="0.9"/>
<rect x="451" y="69.2" width="16" height="1.6" opacity="0.9"/>
<rect x="479.5" y="69.5" width="5" height="1.4" opacity="0.75"/>
<rect x="496" y="69.5" width="5" height="1.4" opacity="0.75"/>
<rect x="515" y="69.5" width="5" height="1.4" opacity="0.75"/>
<rect x="534.5" y="69.5" width="5" height="1.4" opacity="0.75"/>
<rect x="432" y="92.2" width="26" height="0.8" opacity="0.7"/><rect x="496" y="92.4" width="8" height="1" opacity="0.6"/><rect x="536" y="92.4" width="22" height="1" opacity="0.55"/>
<rect x="546" y="96.4" width="45" height="1.4" opacity="0.55"/>
</g>
<rect x="569" y="73" width="14.5" height="22" fill="none" stroke="#7d97b3" stroke-width="0.9" stroke-dasharray="1.2 1.2"/>
<rect x="571" y="69.4" width="10" height="1.4" fill="#9fb6cc" opacity="0.8"/>
<rect x="573.2" y="79.8" width="5.6" height="2" fill="#8fd43a"/>
<rect x="572.6" y="85" width="6.8" height="5.5" fill="#7d97b3" opacity="0.55"/>
<rect x="561.6" y="80.2" width="1.6" height="1.6" fill="#e03030"/>
<rect x="551" y="80.6" width="5" height="0.9" fill="#7d97b3" opacity="0.6"/>
<rect x="421.6" y="93.6" width="4.6" height="5.4" fill="#e8e8e8"/><rect x="423.4" y="95.4" width="1" height="3.6" fill="#252527"/>
<text x="427.2" y="99.2" font-size="6.4" fill="#e8e8e8" textLength="9.6" lengthAdjust="spacingAndGlyphs">TOA</text>
</g>
<g id="mic" filter="url(#glow)">
<defs><linearGradient id="micb" x1="264" x2="311" y1="0" y2="0" gradientUnits="userSpaceOnUse"><stop offset="0" stop-color="#c9c9c9"/><stop offset="0.1" stop-color="#e9e9e9"/><stop offset="0.3" stop-color="#f8f8f8"/><stop offset="0.72" stop-color="#f3f3f3"/><stop offset="0.92" stop-color="#d9d9d9"/><stop offset="1" stop-color="#bdbdbd"/></linearGradient>
<clipPath id="micc"><path d="M264,152 C264,138 268.5,131 281,130.7 L294,130.7 C306.5,131 311,138 311,152 L310,196 C309.6,214 302,224.6 287.5,224.6 C273,224.6 265.4,214 265,196 Z"/></clipPath></defs>
<path d="M264,152 C264,138 268.5,131 281,130.7 L294,130.7 C306.5,131 311,138 311,152 L310,196 C309.6,214 302,224.6 287.5,224.6 C273,224.6 265.4,214 265,196 Z" fill="url(#micb)"/>
<g clip-path="url(#micc)">
<path d="M260,128 H315 V154 Q287.5,158.5 260,154 Z" fill="#1d1e22"/>
<path d="M264,153.6 Q287.5,158 311,153.6 L311,155.2 Q287.5,159.6 264,155.2 Z" fill="#b98a5e" opacity="0.8"/>
<ellipse cx="287.5" cy="146" rx="17" ry="7" fill="#2a3f5c" opacity="0.45"/><g fill="#46688f" opacity="0.8"><rect x="276.2" y="144.3" width="0.9" height="0.9"/><rect x="281.9" y="145.5" width="0.9" height="0.9"/><rect x="292.9" y="135.2" width="0.9" height="0.9"/><rect x="266.6" y="149.9" width="0.9" height="0.9"/><rect x="277.2" y="138.5" width="0.9" height="0.9"/><rect x="308.8" y="142.9" width="0.9" height="0.9"/><rect x="302.0" y="143.1" width="0.9" height="0.9"/><rect x="293.5" y="136.9" width="0.9" height="0.9"/><rect x="293.3" y="150.5" width="0.9" height="0.9"/><rect x="288.5" y="148.1" width="0.9" height="0.9"/><rect x="294.9" y="135.2" width="0.9" height="0.9"/><rect x="298.6" y="145.2" width="0.9" height="0.9"/><rect x="279.0" y="134.6" width="0.9" height="0.9"/><rect x="303.2" y="143.0" width="0.9" height="0.9"/><rect x="296.9" y="150.7" width="0.9" height="0.9"/><rect x="296.7" y="151.5" width="0.9" height="0.9"/><rect x="283.0" y="149.2" width="0.9" height="0.9"/><rect x="285.1" y="151.8" width="0.9" height="0.9"/><rect x="303.8" y="135.9" width="0.9" height="0.9"/><rect x="271.8" y="138.1" width="0.9" height="0.9"/><rect x="307.5" y="142.3" width="0.9" height="0.9"/><rect x="292.9" y="139.7" width="0.9" height="0.9"/><rect x="287.8" y="141.3" width="0.9" height="0.9"/><rect x="281.1" y="145.1" width="0.9" height="0.9"/><rect x="291.1" y="151.2" width="0.9" height="0.9"/><rect x="295.3" y="151.6" width="0.9" height="0.9"/><rect x="302.8" y="152.8" width="0.9" height="0.9"/><rect x="294.9" y="137.1" width="0.9" height="0.9"/><rect x="303.0" y="152.3" width="0.9" height="0.9"/><rect x="304.9" y="144.8" width="0.9" height="0.9"/><rect x="296.7" y="138.0" width="0.9" height="0.9"/><rect x="301.8" y="144.9" width="0.9" height="0.9"/><rect x="278.3" y="135.2" width="0.9" height="0.9"/><rect x="302.7" y="152.8" width="0.9" height="0.9"/><rect x="269.8" y="149.2" width="0.9" height="0.9"/><rect x="283.6" y="136.9" width="0.9" height="0.9"/><rect x="278.6" y="148.6" width="0.9" height="0.9"/><rect x="303.5" y="134.8" width="0.9" height="0.9"/><rect x="292.4" y="134.9" width="0.9" height="0.9"/><rect x="296.9" y="140.3" width="0.9" height="0.9"/><rect x="303.9" y="152.6" width="0.9" height="0.9"/><rect x="287.7" y="153.0" width="0.9" height="0.9"/><rect x="279.3" y="135.5" width="0.9" height="0.9"/><rect x="291.8" y="134.6" width="0.9" height="0.9"/><rect x="274.5" y="141.8" width="0.9" height="0.9"/><rect x="292.3" y="137.0" width="0.9" height="0.9"/><rect x="267.8" y="150.5" width="0.9" height="0.9"/><rect x="279.5" y="152.2" width="0.9" height="0.9"/><rect x="304.6" y="141.2" width="0.9" height="0.9"/><rect x="285.8" y="143.9" width="0.9" height="0.9"/><rect x="293.7" y="145.3" width="0.9" height="0.9"/><rect x="290.0" y="145.8" width="0.9" height="0.9"/><rect x="306.4" y="143.6" width="0.9" height="0.9"/><rect x="284.5" y="147.7" width="0.9" height="0.9"/><rect x="276.2" y="139.7" width="0.9" height="0.9"/><rect x="308.0" y="143.9" width="0.9" height="0.9"/><rect x="289.6" y="134.2" width="0.9" height="0.9"/><rect x="283.9" y="145.0" width="0.9" height="0.9"/><rect x="266.9" y="145.7" width="0.9" height="0.9"/><rect x="293.2" y="135.1" width="0.9" height="0.9"/><rect x="293.0" y="142.9" width="0.9" height="0.9"/><rect x="295.2" y="140.7" width="0.9" height="0.9"/><rect x="296.4" y="148.0" width="0.9" height="0.9"/><rect x="267.0" y="135.2" width="0.9" height="0.9"/><rect x="295.1" y="152.3" width="0.9" height="0.9"/><rect x="276.8" y="142.7" width="0.9" height="0.9"/><rect x="291.5" y="140.1" width="0.9" height="0.9"/><rect x="281.7" y="139.9" width="0.9" height="0.9"/><rect x="281.9" y="145.3" width="0.9" height="0.9"/><rect x="278.9" y="141.2" width="0.9" height="0.9"/><rect x="299.2" y="134.5" width="0.9" height="0.9"/><rect x="290.5" y="148.0" width="0.9" height="0.9"/><rect x="279.3" y="138.2" width="0.9" height="0.9"/><rect x="300.6" y="138.5" width="0.9" height="0.9"/><rect x="274.1" y="142.3" width="0.9" height="0.9"/><rect x="296.0" y="135.9" width="0.9" height="0.9"/><rect x="279.8" y="140.3" width="0.9" height="0.9"/><rect x="301.8" y="142.3" width="0.9" height="0.9"/><rect x="302.8" y="137.2" width="0.9" height="0.9"/><rect x="280.5" y="146.4" width="0.9" height="0.9"/><rect x="304.1" y="142.6" width="0.9" height="0.9"/><rect x="275.7" y="136.3" width="0.9" height="0.9"/><rect x="288.8" y="137.6" width="0.9" height="0.9"/><rect x="300.7" y="149.9" width="0.9" height="0.9"/><rect x="273.9" y="139.3" width="0.9" height="0.9"/><rect x="300.7" y="146.2" width="0.9" height="0.9"/><rect x="300.7" y="140.6" width="0.9" height="0.9"/><rect x="271.6" y="139.5" width="0.9" height="0.9"/><rect x="300.1" y="139.2" width="0.9" height="0.9"/><rect x="280.9" y="141.9" width="0.9" height="0.9"/><rect x="284.1" y="141.8" width="0.9" height="0.9"/><rect x="305.6" y="137.0" width="0.9" height="0.9"/><rect x="266.2" y="151.9" width="0.9" height="0.9"/><rect x="303.8" y="152.8" width="0.9" height="0.9"/><rect x="284.7" y="152.1" width="0.9" height="0.9"/><rect x="305.9" y="138.2" width="0.9" height="0.9"/><rect x="298.1" y="149.9" width="0.9" height="0.9"/><rect x="294.5" y="143.9" width="0.9" height="0.9"/><rect x="278.4" y="140.5" width="0.9" height="0.9"/><rect x="275.8" y="135.3" width="0.9" height="0.9"/><rect x="291.3" y="139.5" width="0.9" height="0.9"/><rect x="300.8" y="134.9" width="0.9" height="0.9"/><rect x="304.9" y="147.2" width="0.9" height="0.9"/><rect x="305.7" y="151.0" width="0.9" height="0.9"/><rect x="304.7" y="145.0" width="0.9" height="0.9"/><rect x="266.6" y="148.2" width="0.9" height="0.9"/><rect x="273.4" y="139.7" width="0.9" height="0.9"/><rect x="294.5" y="144.0" width="0.9" height="0.9"/><rect x="283.8" y="151.8" width="0.9" height="0.9"/><rect x="292.3" y="140.5" width="0.9" height="0.9"/><rect x="276.9" y="150.4" width="0.9" height="0.9"/><rect x="286.5" y="148.9" width="0.9" height="0.9"/><rect x="281.1" y="137.7" width="0.9" height="0.9"/><rect x="289.0" y="149.5" width="0.9" height="0.9"/><rect x="273.4" y="149.0" width="0.9" height="0.9"/><rect x="305.6" y="149.3" width="0.9" height="0.9"/><rect x="301.4" y="134.1" width="0.9" height="0.9"/><rect x="293.0" y="150.4" width="0.9" height="0.9"/><rect x="268.1" y="139.2" width="0.9" height="0.9"/><rect x="277.5" y="144.0" width="0.9" height="0.9"/></g>
<path d="M270,221 Q287.5,229 305,221 L305,226 L270,226 Z" fill="#cfcfcf" opacity="0.6"/>
</g>
<g stroke="#c8c8c8" stroke-width="1"><line x1="280.5" y1="131.6" x2="280.5" y2="135"/><line x1="283.3" y1="131.4" x2="283.3" y2="135"/><line x1="286.1" y1="131.2" x2="286.1" y2="135"/><line x1="288.9" y1="131.2" x2="288.9" y2="135"/><line x1="291.7" y1="131.4" x2="291.7" y2="135"/><line x1="294.5" y1="131.6" x2="294.5" y2="135"/></g>
<rect x="284.6" y="158.8" width="12.4" height="6.4" rx="3.2" fill="#fdfdfd" stroke="#d4d4d4" stroke-width="0.7"/>
<circle cx="280.8" cy="161.2" r="1.1" fill="#777"/>
<rect x="284.5" y="167" width="7" height="0.8" fill="#bdbdbd"/>
<rect x="284.2" y="188.4" width="3.4" height="8" fill="#8f9396"/><rect x="288.4" y="188.4" width="3.6" height="8" fill="#a9adb0"/><rect x="289.6" y="190.6" width="1" height="5.8" fill="#f3f3f3"/>
<text x="288.2" y="202.4" font-size="4.6" fill="#a2a2a2" text-anchor="middle">TOA</text>
<rect x="281" y="216.4" width="12" height="0.9" fill="#c6c6c6"/>
</g>
<g id="speaker" filter="url(#glow)">
<defs><linearGradient id="can" x1="479" x2="534" y1="0" y2="0" gradientUnits="userSpaceOnUse"><stop offset="0" stop-color="#8c8f92"/><stop offset="0.14" stop-color="#d9dadb"/><stop offset="0.3" stop-color="#b4b6b8"/><stop offset="0.42" stop-color="#e6e7e8"/><stop offset="0.56" stop-color="#a3a6a9"/><stop offset="0.74" stop-color="#d0d2d4"/><stop offset="0.9" stop-color="#8e9194"/><stop offset="1" stop-color="#6f7275"/></linearGradient>
<linearGradient id="dome" x1="0" x2="0" y1="246" y2="262" gradientUnits="userSpaceOnUse"><stop offset="0" stop-color="#8b8d90"/><stop offset="0.55" stop-color="#c4c6c8"/><stop offset="1" stop-color="#e4e4e4"/></linearGradient></defs>
<rect x="469.6" y="226.5" width="5.2" height="12" fill="#c9cbcd"/><rect x="469.6" y="226.5" width="1.6" height="12" fill="#9a9c9e"/>
<rect x="538" y="222.5" width="6.6" height="17" fill="#d4d6d8"/><rect x="542.6" y="222.5" width="2" height="17" fill="#9a9c9e"/>
<path d="M484.6,208.6 Q507,203.4 529.4,208.6 L533.8,238 L479.6,238 Z" fill="url(#can)"/>
<path d="M484.6,208.6 Q507,203.4 529.4,208.6 Q507,212.4 484.6,208.6 Z" fill="#c8cacc"/>
<rect x="509" y="215" width="6.5" height="5" fill="#e9e9e9"/><rect x="514" y="214" width="3" height="20" fill="#6d7073"/><rect x="517" y="213.6" width="3.6" height="6" fill="#dfe0e1"/>
<rect x="489" y="219" width="5" height="1.2" fill="#7c7f82"/>
<path d="M464.8,241.4 C472,235.8 492,234.8 506.5,234.8 C521,234.8 541,235.8 548.2,241.4 C548.6,246 543,249.4 534,251.6 L479,251.6 C470,249.4 464.4,246 464.8,241.4 Z" fill="#222325"/>
<path d="M478.6,249.4 C490,246.6 523,246.6 534.6,249.4 C528,257.4 517,261.2 506.5,261.2 C496,261.2 485,257.4 478.6,249.4 Z" fill="url(#dome)"/>
<path d="M490,244.6 Q506.5,241.2 523,244.6 Q506.5,247.8 490,244.6 Z" fill="#5f6f86" opacity="0.85"/>
</g>
<g id="laptop">
<rect x="853" y="57" width="102" height="63" fill="#9c9c9c"/>
<rect x="860" y="63" width="88.2" height="50" fill="#fff"/>
<polygon points="853.0,119.8 955.0,119.8 977.4,143.2 830.7,143.2" fill="#9c9c9c" />
<rect x="853" y="119.6" width="102" height="1.6" fill="#8b8b8b"/>
<polygon points="856.0,122.8 951.0,122.8 958.8,133.6 848.0,133.6" fill="#c6c6c6" />
<line x1="854.0" y1="125.5" x2="953.0" y2="125.5" stroke="#9c9c9c" stroke-width="0.7"/>
<line x1="852.0" y1="128.2" x2="954.9" y2="128.2" stroke="#9c9c9c" stroke-width="0.7"/>
<line x1="850.0" y1="130.9" x2="956.9" y2="130.9" stroke="#9c9c9c" stroke-width="0.7"/>
<line x1="861.6" y1="122.8" x2="854.5" y2="133.6" stroke="#9c9c9c" stroke-width="0.7"/>
<line x1="867.2" y1="122.8" x2="861.0" y2="133.6" stroke="#9c9c9c" stroke-width="0.7"/>
<line x1="872.8" y1="122.8" x2="867.6" y2="133.6" stroke="#9c9c9c" stroke-width="0.7"/>
<line x1="878.4" y1="122.8" x2="874.1" y2="133.6" stroke="#9c9c9c" stroke-width="0.7"/>
<line x1="883.9" y1="122.8" x2="880.6" y2="133.6" stroke="#9c9c9c" stroke-width="0.7"/>
<line x1="889.5" y1="122.8" x2="887.1" y2="133.6" stroke="#9c9c9c" stroke-width="0.7"/>
<line x1="895.1" y1="122.8" x2="893.6" y2="133.6" stroke="#9c9c9c" stroke-width="0.7"/>
<line x1="900.7" y1="122.8" x2="900.1" y2="133.6" stroke="#9c9c9c" stroke-width="0.7"/>
<line x1="906.3" y1="122.8" x2="906.7" y2="133.6" stroke="#9c9c9c" stroke-width="0.7"/>
<line x1="911.9" y1="122.8" x2="913.2" y2="133.6" stroke="#9c9c9c" stroke-width="0.7"/>
<line x1="917.5" y1="122.8" x2="919.7" y2="133.6" stroke="#9c9c9c" stroke-width="0.7"/>
<line x1="923.1" y1="122.8" x2="926.2" y2="133.6" stroke="#9c9c9c" stroke-width="0.7"/>
<line x1="928.6" y1="122.8" x2="932.7" y2="133.6" stroke="#9c9c9c" stroke-width="0.7"/>
<line x1="934.2" y1="122.8" x2="939.2" y2="133.6" stroke="#9c9c9c" stroke-width="0.7"/>
<line x1="939.8" y1="122.8" x2="945.8" y2="133.6" stroke="#9c9c9c" stroke-width="0.7"/>
<line x1="945.4" y1="122.8" x2="952.3" y2="133.6" stroke="#9c9c9c" stroke-width="0.7"/>
<rect x="830.7" y="143.2" width="146.7" height="4.3" fill="#858585"/>
<rect x="830.7" y="143.2" width="146.7" height="4.3" fill="none" stroke="#6e6e6e" stroke-width="0.6" stroke-dasharray="1 1.2"/>
</g>
<g id="dvd">
<defs><linearGradient id="dvdg" x1="0" x2="0" y1="278.8" y2="297.3" gradientUnits="userSpaceOnUse"><stop offset="0" stop-color="#252526"/><stop offset="0.32" stop-color="#262627"/><stop offset="0.5" stop-color="#3c3e40"/><stop offset="1" stop-color="#585a5c"/></linearGradient></defs>
<rect x="839" y="297" width="15.4" height="5.6" fill="#1e1e1f"/><rect x="964.6" y="297" width="15" height="5.6" fill="#1e1e1f"/>
<rect x="827.4" y="278.8" width="164" height="18.5" fill="url(#dvdg)"/>
<rect x="827.4" y="296.4" width="164" height="0.9" fill="#8a7a70" opacity="0.7"/>
<rect x="886" y="286.2" width="49.5" height="3.2" fill="#8b8d90"/><rect x="886" y="287.4" width="49.5" height="0.8" fill="#5a5c5e"/>
<g fill="#c9c4c0"><circle cx="891.4" cy="293" r="1.2"/><circle cx="898" cy="293" r="1.2"/><circle cx="913" cy="293" r="1.2"/><circle cx="920.5" cy="293" r="1.2"/><circle cx="927.5" cy="293" r="1.2"/><circle cx="938.5" cy="293" r="1"/></g>
<rect x="949" y="286.2" width="2.8" height="2.8" fill="#e6d21a"/><rect x="954" y="286.2" width="2.8" height="2.8" fill="#e6d21a"/>
<circle cx="976" cy="290.8" r="4.6" fill="#d6d6d6"/><circle cx="976" cy="290.8" r="2.7" fill="#9a9a9c"/>
</g>
<g id="labels">
<circle cx="82" cy="82.6" r="47" fill="#0068b6"/><circle cx="186.1" cy="82.6" r="47" fill="#0068b6"/>
<text x="82.8" y="78.8" font-size="17.5" class="bd" text-anchor="middle" textLength="58.5" lengthAdjust="spacing" >先生の</text>
<text x="82.2" y="103.3" font-size="17.5" class="bd" text-anchor="middle" textLength="38.5" lengthAdjust="spacing" >指示</text>
<text x="187.1" y="79.8" font-size="18" class="bd" text-anchor="middle" textLength="80.5" lengthAdjust="spacingAndGlyphs" >ネイティブ</text>
<text x="187.4" y="105.1" font-size="17.5" class="bd" text-anchor="middle" textLength="57.5" lengthAdjust="spacing" >の発音</text>
<rect x="29.8" y="144.2" width="209.1" height="65.4" rx="15" fill="#666a6d"/>
<text x="135.4" y="171.2" font-size="22.5" class="lt" text-anchor="middle" textLength="140.5" lengthAdjust="spacing" >赤外線マイク</text>
<text x="135.2" y="202.4" font-size="22.5" class="lt" text-anchor="middle" textLength="160.8" lengthAdjust="spacing" >ハンズフリー型</text>
<rect x="403" y="15.8" width="207" height="35.1" rx="17.5" fill="#666a6d"/>
<text x="507" y="42.3" font-size="21.5" class="lt" text-anchor="middle" textLength="176" lengthAdjust="spacing" >赤外線チューナー</text>
<rect x="383.8" y="159.6" width="243" height="33" rx="16.5" fill="#666a6d" filter="url(#glow)"/>
<text x="505.6" y="185.7" font-size="21.5" class="lt" text-anchor="middle" textLength="174" lengthAdjust="spacing" >赤外線スピーカー</text>
<rect x="804.1" y="15.7" width="199.6" height="33.3" rx="16.6" fill="#666a6d"/>
<text x="904.2" y="40.8" font-size="21" class="lt" text-anchor="middle" textLength="85" lengthAdjust="spacing" >パソコン</text>
<rect x="804.7" y="228.4" width="198.7" height="33.5" rx="16.7" fill="#666a6d" filter="url(#glow)"/>
<text x="904.2" y="253.5" font-size="23" class="lt" text-anchor="middle" textLength="114" lengthAdjust="spacingAndGlyphs" stroke="#666a6d" stroke-width="0.3">TV ／ DVD</text>
<rect x="846" y="157.6" width="126.3" height="26.1" rx="11" fill="#0068b6"/>
<rect x="846" y="189.3" width="126.3" height="26.1" rx="11" fill="#0068b6"/>
<text x="909.8" y="175.8" font-size="14" class="bd" text-anchor="middle" textLength="62" lengthAdjust="spacing" >英語教材</text>
<text x="909.8" y="207.5" font-size="14" class="bd" text-anchor="middle" textLength="62" lengthAdjust="spacing" >動画教材</text>
</g>
<g id="callout">
<g filter="url(#glow)"><path d="M33,245 H224.5 A12.7,12.7 0 0 1 237,258 V300 L328,301.9 L319.5,313.1 L237,325 V446.4 A12.7,12.7 0 0 1 224.3,459 H33.2 A12.7,12.7 0 0 1 20.5,446.4 V258 A12.7,12.7 0 0 1 33,245 Z" fill="#0068b6"/><path d="M26.7,237.8 H217.8 A12.7,12.7 0 0 1 230.5,250.5 V293.3 L330.5,301.4 L230.5,316.6 V438.2 A12.7,12.7 0 0 1 217.8,450.9 H26.7 A12.7,12.7 0 0 1 14,438.2 V250.5 A12.7,12.7 0 0 1 26.7,237.8 Z" fill="#fff" stroke="#1b6fb2" stroke-width="1"/></g>
<text x="24.8" y="266.4" font-size="12.5" fill="#231815" textLength="197" lengthAdjust="spacingAndGlyphs">教室<tspan font-size="6.5" dy="-4.5">※</tspan><tspan dy="4.5">全体で平均84dBの音圧を確保</tspan></text>
<clipPath id="plotc"><rect x="61.5" y="277.3" width="153.5" height="154.0"/></clipPath>
<g clip-path="url(#plotc)"><rect x="61.5" y="277.3" width="153.5" height="154.0" fill="#a6c800"/>
<circle cx="138.2" cy="354.3" r="77" fill="#c3d000"/>
<circle cx="138.2" cy="354.3" r="48.5" fill="#dcde00"/>
<circle cx="138.2" cy="354.3" r="27" fill="#f4e200"/>
<circle cx="138.2" cy="354.3" r="18" fill="#ffcc00"/>
<circle cx="138.2" cy="354.3" r="10.5" fill="#dc9212"/>
<circle cx="138.2" cy="354.3" r="7" fill="#c87818"/>
<path d="M61.5,277.3 V431.3 M61.5,277.3 H215 M71.7,277.3 V431.3 M61.5,287.6 H215 M82.0,277.3 V431.3 M61.5,297.8 H215 M92.2,277.3 V431.3 M61.5,308.1 H215 M102.4,277.3 V431.3 M61.5,318.4 H215 M112.7,277.3 V431.3 M61.5,328.6 H215 M122.9,277.3 V431.3 M61.5,338.9 H215 M133.1,277.3 V431.3 M61.5,349.2 H215 M143.4,277.3 V431.3 M61.5,359.4 H215 M153.6,277.3 V431.3 M61.5,369.7 H215 M163.8,277.3 V431.3 M61.5,380.0 H215 M174.1,277.3 V431.3 M61.5,390.2 H215 M184.3,277.3 V431.3 M61.5,400.5 H215 M194.5,277.3 V431.3 M61.5,410.8 H215 M204.8,277.3 V431.3 M61.5,421.0 H215 M215.0,277.3 V431.3 M61.5,431.3 H215" stroke="#c6caa4" stroke-width="0.6" fill="none" opacity="0.75"/>
<circle cx="138.2" cy="354.3" r="1.6" fill="none" stroke="#222" stroke-width="0.8"/><circle cx="138.2" cy="354.3" r="0.6" fill="#222"/>
</g>
<path d="M61.5,417.3 V431.3 H70.5" stroke="#7a8a6a" stroke-width="0.8" fill="none"/>
<text x="60.5" y="276.2" font-size="3.4" fill="#555" text-anchor="middle">0</text>
<text x="138" y="276.2" font-size="3.4" fill="#555" text-anchor="middle">90</text>
<text x="216" y="276.4" font-size="3.4" fill="#555" text-anchor="middle">0</text>
<text x="217.5" y="283" font-size="3.4" fill="#555" text-anchor="middle">0</text>
<text x="217.5" y="356" font-size="3.4" fill="#555" text-anchor="middle">90</text>
<text x="61" y="435.4" font-size="3.4" fill="#555" text-anchor="middle">0</text>
<text x="76" y="435.4" font-size="3.4" fill="#555" text-anchor="middle">1</text>
<text x="214.5" y="435.4" font-size="3.4" fill="#555" text-anchor="middle">9</text>
<defs><linearGradient id="leg" x1="0" x2="0" y1="0" y2="1"><stop offset="0" stop-color="#e60012"/><stop offset="0.12" stop-color="#ea5514"/><stop offset="0.3" stop-color="#f39800"/><stop offset="0.42" stop-color="#fdd000"/><stop offset="0.55" stop-color="#f0e000"/><stop offset="0.7" stop-color="#b8d200"/><stop offset="0.85" stop-color="#8fc31f"/><stop offset="1" stop-color="#62bfc0"/></linearGradient></defs>
<rect x="29.3" y="346.6" width="4.7" height="87.1" fill="url(#leg)"/>
<text x="39.6" y="350.9" font-size="4.1" fill="#3a3a3a" font-weight="700">- 112</text>
<text x="37.2" y="356.3" font-size="4.1" fill="#3a3a3a" font-weight="700">112 - 109</text>
<text x="37.2" y="361.8" font-size="4.1" fill="#3a3a3a" font-weight="700">109 - 106</text>
<text x="37.2" y="367.2" font-size="4.1" fill="#3a3a3a" font-weight="700">106 - 103</text>
<text x="37.2" y="372.7" font-size="4.1" fill="#3a3a3a" font-weight="700">103 - 100</text>
<text x="37.2" y="378.1" font-size="4.1" fill="#3a3a3a" font-weight="700">100 - 97</text>
<text x="37.2" y="383.5" font-size="4.1" fill="#3a3a3a" font-weight="700">97 - 94</text>
<text x="37.2" y="389.0" font-size="4.1" fill="#3a3a3a" font-weight="700">94 - 91</text>
<text x="37.2" y="394.4" font-size="4.1" fill="#3a3a3a" font-weight="700">91 - 88</text>
<text x="37.2" y="399.9" font-size="4.1" fill="#3a3a3a" font-weight="700">88 - 85</text>
<text x="37.2" y="405.3" font-size="4.1" fill="#3a3a3a" font-weight="700">85 - 82</text>
<text x="37.2" y="410.7" font-size="4.1" fill="#3a3a3a" font-weight="700">82 - 79</text>
<text x="37.2" y="416.2" font-size="4.1" fill="#3a3a3a" font-weight="700">79 - 76</text>
<text x="37.2" y="421.6" font-size="4.1" fill="#3a3a3a" font-weight="700">76 - 73</text>
<text x="37.2" y="427.1" font-size="4.1" fill="#3a3a3a" font-weight="700">73 - 70</text>
<text x="37.2" y="432.5" font-size="4.1" fill="#3a3a3a" font-weight="700">70 - 67</text>
<text x="218" y="447" font-size="11.8" fill="#231815" text-anchor="end" textLength="81" lengthAdjust="spacingAndGlyphs">※9m×9m×3m</text>
</g>
<g id="photo">
<defs><clipPath id="phc"><rect x="730.7" y="329.6" width="162" height="120.6" rx="6.5"/></clipPath><clipPath id="circ"><circle cx="944.7" cy="386" r="57.4"/></clipPath><linearGradient id="ceil" x1="730" x2="893" y1="0" y2="0" gradientUnits="userSpaceOnUse"><stop offset="0" stop-color="#e9e8e0"/><stop offset="0.5" stop-color="#f1f0e8"/><stop offset="1" stop-color="#f8f8f4"/></linearGradient><linearGradient id="chrome" x1="0" x2="1" y1="0" y2="1"><stop offset="0" stop-color="#f4f4f4"/><stop offset="0.5" stop-color="#9a9a9a"/><stop offset="1" stop-color="#e0e0e0"/></linearGradient><radialGradient id="domew" cx="0.45" cy="0.35" r="0.7"><stop offset="0" stop-color="#ffffff"/><stop offset="0.7" stop-color="#e4e4e2"/><stop offset="1" stop-color="#bdbdbb"/></radialGradient></defs>
<rect x="730.7" y="329.6" width="162" height="120.6" rx="6.5" fill="#fff" filter="url(#glow)"/>
<g clip-path="url(#phc)">
<rect x="730" y="329" width="164" height="42" fill="url(#ceil)"/>
<line x1="752" y1="329" x2="790" y2="366" stroke="#d9d8cf" stroke-width="0.7"/>
<line x1="776" y1="329" x2="802" y2="366" stroke="#d9d8cf" stroke-width="0.7"/>
<line x1="800" y1="329" x2="812" y2="366" stroke="#d9d8cf" stroke-width="0.7"/>
<line x1="824" y1="329" x2="822" y2="366" stroke="#d9d8cf" stroke-width="0.7"/>
<line x1="846" y1="329" x2="832" y2="366" stroke="#d9d8cf" stroke-width="0.7"/>
<polygon points="730.0,336.0 738.0,333.0 782.0,366.0 768.0,367.0" fill="#fbfbf9" />
<polygon points="730.0,347.0 730.0,340.0 768.0,367.0 760.0,367.0" fill="#dcdbd2" />
<polygon points="862.0,329.0 878.0,329.0 850.0,367.0 836.0,367.0" fill="#fdfdfc" />
<polygon points="878.0,329.0 884.0,329.0 856.0,367.0 850.0,367.0" fill="#e3e2da" />
<rect x="730" y="364.5" width="164" height="6.2" fill="#fafaf6"/><rect x="730" y="370.2" width="164" height="1" fill="#cfcdbf"/>
<rect x="775" y="364.8" width="64" height="1.2" fill="#d8d7cc"/>
<rect x="798" y="358.8" width="16" height="2" fill="#fff" stroke="#d0cfc6" stroke-width="0.5"/>
<rect x="876" y="337" width="12" height="2.2" fill="#fff" transform="rotate(-38 882 338)"/>
<rect x="730" y="371" width="164" height="76" fill="#f5f2dc"/>
<rect x="730" y="424" width="164" height="22" fill="#f3f1e8"/>
<rect x="757.6" y="374.4" width="14" height="10.6" fill="#fff"/><rect x="758.4" y="375" width="12.4" height="3.6" fill="#d63a2a"/><rect x="759" y="379.6" width="11" height="1.2" fill="#333"/><rect x="759" y="381.8" width="11" height="1.2" fill="#555"/>
<rect x="797.8" y="378.6" width="10.8" height="12.8" fill="#fcfcfc" stroke="#d8d8d0" stroke-width="0.4"/><rect x="798.6" y="386.8" width="9.2" height="3.6" fill="#86bcd8"/>
<rect x="786" y="375.4" width="40" height="3.4" fill="#fbfaf0"/>
<rect x="858" y="375.8" width="12.8" height="10" fill="#9c9c98"/><circle cx="864.4" cy="380.8" r="3" fill="#808080"/>
<rect x="730" y="382" width="3.4" height="2.6" fill="#444"/><rect x="754" y="388.6" width="6" height="3.4" fill="#4a4a4a"/>
<rect x="748.4" y="392.2" width="99" height="33" fill="#e9e9e2"/>
<rect x="749.2" y="393" width="97.6" height="31" fill="#1f5652"/>
<rect x="847.8" y="391" width="45" height="32.4" fill="#dfe3e0"/><rect x="848.6" y="391.8" width="44" height="30.6" fill="#1e7c84"/>
<rect x="818.5" y="394.2" width="10" height="7.8" fill="#f4f4f4"/><rect x="834.9" y="394" width="10.6" height="14.4" fill="#f2f6f8"/><circle cx="840" cy="402" r="3.4" fill="none" stroke="#5fa6d6" stroke-width="1"/>
<rect x="849.6" y="402.7" width="7.4" height="10" fill="#eef2f2"/><rect x="858" y="400.7" width="10" height="5.8" fill="#f5f5f3"/><rect x="858" y="408.4" width="10" height="6.6" fill="#f3ead2"/><rect x="859" y="409.4" width="3.4" height="2" fill="#e8c020"/><rect x="863.4" y="409.4" width="3.4" height="2" fill="#e05a3a"/><rect x="859" y="412.2" width="3.4" height="2" fill="#e05a3a"/><rect x="870.3" y="400.7" width="12" height="7.8" fill="#eef4f6"/>
<rect x="840.6" y="411.4" width="2" height="3.2" fill="#dcdcdc"/>
<rect x="731" y="396.2" width="12.6" height="23.6" fill="#3c7fd2"/><rect x="731" y="396.2" width="12.6" height="3" fill="#2a5aa8"/><rect x="733" y="402" width="6" height="10" fill="#7fb2ea" opacity="0.7"/><rect x="743.6" y="400" width="2.6" height="22" fill="#6f86a8"/>
<rect x="731" y="419.8" width="14" height="6" fill="#2e2e2e"/><rect x="731" y="426" width="16" height="20" fill="#f0eee8"/><rect x="731" y="432" width="9.5" height="15" fill="#c9a562"/><rect x="741" y="428" width="6" height="18" fill="#c8c2b4"/>
<rect x="838.3" y="425.4" width="54" height="2.2" fill="#8d8d86"/><rect x="838.8" y="427.4" width="1.6" height="20" fill="#9a9a94"/>
<rect x="860.4" y="427.4" width="32" height="21" fill="#263434"/><rect x="860.4" y="427.4" width="1.6" height="21" fill="#8d8d86"/><rect x="861" y="434.4" width="31" height="2" fill="#a58a5c"/><rect x="864" y="429" width="24" height="5" fill="#121a1c"/>
<rect x="876.5" y="439.5" width="12.8" height="9" fill="#dcc6a0"/><rect x="882.2" y="416.9" width="8.6" height="8.6" fill="#e88aa6"/><rect x="883" y="413.4" width="5" height="4" fill="#f4f0f0"/>
<rect x="848.2" y="443" width="7.4" height="6" fill="#3d86d4"/><rect x="776" y="438" width="2.4" height="2.6" fill="#555"/>
<rect x="730" y="445.6" width="164" height="5" fill="#4b4a5c"/><rect x="730" y="444.6" width="164" height="1.2" fill="#c0a070"/>
<ellipse cx="810" cy="337.4" rx="7.6" ry="3.4" fill="#1c1c1c"/><ellipse cx="810" cy="338.8" rx="5" ry="2" fill="#d8d8d8"/>
</g>
<rect x="730.7" y="329.6" width="162" height="120.6" rx="6.5" fill="none" stroke="#2d7ad4" stroke-width="1.4"/>
<g filter="url(#glow)"><polygon points="835,339 896,352.5 886,373.5 835,342" fill="#e7380d"/>
<ellipse cx="811.7" cy="338.4" rx="22.2" ry="12" fill="none" stroke="#e7380d" stroke-width="4.5"/>
<circle cx="944.7" cy="386" r="61.3" fill="#e7380d"/></g>
<g clip-path="url(#circ)">
<rect x="880" y="320" width="130" height="130" fill="#eeedeb"/>
<g fill="#77736f" opacity="0.75"><rect x="898.2" y="358.9" width="1.1" height="0.9"/><rect x="946.0" y="396.0" width="0.7" height="0.8"/><rect x="985.9" y="417.9" width="1.0" height="0.9"/><rect x="911.7" y="352.5" width="0.9" height="0.6"/><rect x="959.3" y="338.9" width="1.0" height="0.9"/><rect x="936.8" y="373.7" width="1.1" height="0.7"/><rect x="970.9" y="399.2" width="1.1" height="0.7"/><rect x="941.1" y="329.8" width="0.9" height="0.8"/><rect x="898.0" y="392.2" width="1.1" height="0.9"/><rect x="934.8" y="373.6" width="0.7" height="0.7"/><rect x="943.4" y="354.6" width="1.0" height="0.6"/><rect x="972.1" y="397.0" width="1.1" height="0.9"/><rect x="930.9" y="358.5" width="1.0" height="0.8"/><rect x="925.5" y="390.1" width="1.2" height="0.7"/><rect x="999.3" y="378.4" width="0.6" height="0.8"/><rect x="968.5" y="335.2" width="0.9" height="0.7"/><rect x="958.5" y="439.7" width="0.7" height="0.9"/><rect x="970.7" y="418.1" width="1.3" height="0.7"/><rect x="962.1" y="349.2" width="1.2" height="1.0"/><rect x="951.0" y="439.6" width="0.9" height="0.6"/><rect x="984.7" y="386.9" width="0.9" height="0.8"/><rect x="965.9" y="411.9" width="0.8" height="1.0"/><rect x="994.1" y="386.5" width="1.2" height="0.7"/><rect x="987.8" y="364.5" width="1.2" height="0.7"/><rect x="919.9" y="411.7" width="1.3" height="0.9"/><rect x="920.8" y="414.6" width="0.8" height="0.6"/><rect x="986.5" y="417.1" width="0.8" height="1.1"/><rect x="944.8" y="415.4" width="1.0" height="0.7"/><rect x="905.7" y="425.8" width="1.2" height="1.0"/><rect x="907.6" y="346.1" width="1.3" height="0.9"/><rect x="942.3" y="373.6" width="1.1" height="0.8"/><rect x="945.5" y="340.2" width="0.8" height="0.6"/><rect x="962.9" y="377.0" width="0.9" height="0.8"/><rect x="930.2" y="432.8" width="1.3" height="0.7"/><rect x="927.3" y="360.0" width="1.0" height="0.8"/><rect x="956.1" y="405.9" width="0.7" height="1.1"/><rect x="918.0" y="386.5" width="1.2" height="1.1"/><rect x="924.4" y="392.6" width="0.7" height="0.6"/><rect x="935.3" y="400.4" width="0.8" height="0.7"/><rect x="896.1" y="363.3" width="1.1" height="0.8"/><rect x="909.3" y="407.3" width="0.9" height="0.8"/><rect x="972.5" y="397.4" width="1.3" height="0.7"/><rect x="899.5" y="385.0" width="1.2" height="0.7"/><rect x="941.0" y="414.2" width="0.9" height="0.8"/><rect x="995.0" y="371.0" width="1.2" height="0.6"/><rect x="991.7" y="395.7" width="1.2" height="0.8"/><rect x="944.0" y="385.6" width="0.9" height="1.1"/><rect x="968.8" y="339.1" width="1.3" height="0.7"/><rect x="962.0" y="400.2" width="1.0" height="0.9"/><rect x="989.9" y="368.6" width="1.1" height="1.0"/><rect x="903.9" y="397.2" width="0.6" height="1.0"/><rect x="950.7" y="440.3" width="1.1" height="0.8"/><rect x="964.5" y="406.6" width="1.0" height="0.9"/><rect x="956.2" y="395.8" width="1.0" height="0.9"/><rect x="924.1" y="403.4" width="1.0" height="0.6"/><rect x="932.4" y="422.7" width="1.3" height="0.9"/><rect x="974.0" y="359.8" width="0.8" height="0.7"/><rect x="991.1" y="374.3" width="0.8" height="0.6"/><rect x="897.9" y="386.5" width="0.9" height="0.7"/><rect x="917.5" y="338.4" width="0.8" height="0.6"/><rect x="925.3" y="417.5" width="1.1" height="0.7"/><rect x="959.0" y="339.1" width="1.0" height="0.7"/><rect x="976.0" y="380.0" width="1.2" height="0.7"/><rect x="953.6" y="434.9" width="0.8" height="1.1"/><rect x="920.0" y="386.7" width="0.8" height="0.8"/><rect x="916.5" y="338.2" width="0.7" height="0.8"/><rect x="957.7" y="440.7" width="0.7" height="0.6"/><rect x="977.9" y="399.2" width="1.2" height="1.0"/><rect x="938.5" y="329.4" width="1.3" height="0.8"/><rect x="966.4" y="436.7" width="1.1" height="0.6"/><rect x="926.7" y="355.9" width="0.9" height="0.8"/><rect x="946.2" y="388.7" width="0.8" height="0.8"/><rect x="964.0" y="380.5" width="1.3" height="0.7"/><rect x="912.6" y="426.5" width="1.2" height="0.8"/><rect x="982.1" y="397.9" width="0.9" height="1.1"/><rect x="956.8" y="418.2" width="1.2" height="0.6"/><rect x="901.2" y="413.3" width="1.1" height="0.6"/><rect x="958.6" y="389.1" width="1.2" height="0.7"/><rect x="943.8" y="332.0" width="0.8" height="0.7"/><rect x="987.9" y="374.2" width="0.8" height="1.0"/><rect x="932.6" y="413.4" width="0.6" height="1.0"/><rect x="984.0" y="363.3" width="1.3" height="0.6"/><rect x="948.7" y="425.1" width="1.3" height="1.1"/><rect x="923.1" y="404.7" width="0.9" height="0.8"/><rect x="966.6" y="375.4" width="1.2" height="1.0"/><rect x="966.8" y="341.0" width="1.0" height="0.8"/><rect x="930.2" y="417.1" width="1.1" height="0.6"/><rect x="960.8" y="432.8" width="0.8" height="0.6"/><rect x="986.1" y="394.9" width="0.8" height="1.1"/><rect x="986.8" y="348.1" width="0.8" height="0.6"/><rect x="977.8" y="408.9" width="1.1" height="0.8"/><rect x="948.3" y="422.6" width="1.0" height="0.9"/><rect x="944.0" y="333.5" width="1.1" height="0.7"/><rect x="961.4" y="360.0" width="1.0" height="0.8"/><rect x="942.8" y="360.6" width="0.8" height="0.7"/><rect x="975.3" y="430.0" width="1.0" height="0.8"/><rect x="899.6" y="420.5" width="1.0" height="0.7"/><rect x="961.2" y="343.0" width="1.3" height="0.7"/><rect x="893.8" y="394.1" width="1.2" height="1.1"/><rect x="974.6" y="393.7" width="0.7" height="0.7"/><rect x="987.6" y="378.6" width="1.3" height="0.8"/><rect x="970.2" y="357.5" width="0.8" height="1.0"/><rect x="962.2" y="379.8" width="1.0" height="0.9"/><rect x="951.7" y="419.9" width="0.7" height="0.7"/><rect x="943.3" y="430.1" width="1.1" height="0.7"/><rect x="977.2" y="388.3" width="1.1" height="0.7"/><rect x="934.9" y="409.8" width="1.2" height="0.9"/><rect x="961.4" y="393.0" width="0.9" height="0.9"/><rect x="933.7" y="372.8" width="0.7" height="0.9"/><rect x="919.1" y="402.3" width="0.8" height="1.1"/><rect x="928.3" y="425.7" width="0.9" height="0.8"/><rect x="982.1" y="343.1" width="0.9" height="0.7"/><rect x="941.2" y="360.5" width="0.6" height="1.1"/><rect x="898.9" y="409.8" width="0.9" height="1.0"/><rect x="922.4" y="391.6" width="0.6" height="0.9"/><rect x="910.2" y="344.0" width="0.7" height="0.9"/><rect x="916.8" y="415.4" width="0.7" height="0.7"/><rect x="890.3" y="378.7" width="0.7" height="0.8"/><rect x="963.6" y="333.2" width="0.7" height="0.7"/><rect x="997.4" y="366.3" width="0.9" height="0.6"/><rect x="976.4" y="370.1" width="1.2" height="0.9"/><rect x="955.0" y="365.6" width="1.2" height="0.7"/><rect x="901.4" y="415.6" width="1.2" height="0.7"/><rect x="951.9" y="421.3" width="1.0" height="0.8"/><rect x="965.0" y="405.8" width="1.1" height="1.0"/><rect x="986.0" y="396.9" width="1.1" height="0.6"/><rect x="955.0" y="369.4" width="1.0" height="0.9"/><rect x="922.7" y="363.4" width="0.9" height="0.9"/><rect x="903.4" y="406.8" width="0.9" height="0.8"/><rect x="989.1" y="392.6" width="0.9" height="0.7"/><rect x="949.0" y="335.8" width="0.9" height="0.7"/><rect x="926.3" y="389.1" width="0.7" height="0.8"/><rect x="976.5" y="406.6" width="1.0" height="0.6"/><rect x="934.0" y="373.6" width="1.1" height="1.0"/><rect x="931.5" y="385.0" width="1.0" height="0.8"/><rect x="964.7" y="379.6" width="1.2" height="1.1"/><rect x="938.9" y="334.9" width="0.7" height="1.1"/><rect x="889.0" y="388.8" width="1.2" height="0.7"/><rect x="957.8" y="332.6" width="0.6" height="0.8"/><rect x="945.6" y="363.3" width="1.2" height="0.7"/><rect x="953.4" y="366.2" width="1.0" height="1.1"/><rect x="952.3" y="414.2" width="1.0" height="0.8"/><rect x="968.4" y="391.6" width="0.7" height="1.1"/><rect x="921.6" y="337.2" width="0.7" height="1.0"/><rect x="975.8" y="413.5" width="1.0" height="0.8"/><rect x="974.3" y="355.6" width="1.0" height="1.0"/><rect x="989.7" y="420.7" width="1.0" height="0.8"/><rect x="953.4" y="358.0" width="1.3" height="0.9"/><rect x="912.9" y="424.4" width="0.9" height="0.7"/><rect x="944.2" y="373.5" width="1.2" height="0.7"/><rect x="908.4" y="342.6" width="1.0" height="0.9"/><rect x="943.8" y="388.2" width="0.6" height="0.7"/><rect x="916.8" y="361.0" width="1.0" height="1.0"/><rect x="963.0" y="406.0" width="1.1" height="0.6"/><rect x="978.7" y="386.6" width="0.7" height="0.8"/><rect x="951.7" y="429.0" width="1.0" height="0.7"/><rect x="916.7" y="358.4" width="0.7" height="1.1"/><rect x="945.6" y="408.0" width="0.7" height="0.9"/><rect x="979.5" y="349.5" width="0.9" height="0.7"/><rect x="990.4" y="389.3" width="1.0" height="0.8"/><rect x="921.5" y="355.9" width="1.3" height="1.0"/><rect x="945.2" y="440.2" width="0.6" height="0.9"/><rect x="921.6" y="401.5" width="0.6" height="1.0"/><rect x="986.9" y="389.3" width="1.3" height="0.7"/><rect x="958.6" y="428.2" width="1.0" height="0.9"/><rect x="953.9" y="364.0" width="0.8" height="0.8"/><rect x="996.0" y="402.1" width="1.1" height="1.0"/><rect x="997.0" y="388.1" width="1.1" height="0.8"/><rect x="942.7" y="347.7" width="0.8" height="0.7"/><rect x="945.9" y="397.2" width="0.8" height="1.0"/><rect x="927.0" y="336.7" width="1.1" height="0.7"/><rect x="909.2" y="373.5" width="1.2" height="0.9"/><rect x="940.3" y="431.5" width="1.3" height="0.7"/><rect x="949.8" y="381.2" width="0.8" height="0.7"/><rect x="942.6" y="330.6" width="1.1" height="0.8"/><rect x="968.5" y="363.7" width="0.8" height="1.1"/><rect x="912.4" y="351.3" width="1.1" height="1.1"/><rect x="893.4" y="396.0" width="1.1" height="1.0"/><rect x="899.9" y="404.6" width="1.0" height="0.8"/><rect x="955.3" y="429.7" width="0.7" height="1.1"/><rect x="950.4" y="393.4" width="0.7" height="1.1"/><rect x="932.6" y="403.8" width="0.6" height="0.6"/><rect x="928.7" y="343.5" width="1.1" height="1.0"/><rect x="984.8" y="403.6" width="0.9" height="1.0"/><rect x="967.5" y="337.2" width="0.6" height="1.0"/><rect x="992.3" y="357.6" width="0.7" height="0.7"/><rect x="952.8" y="392.8" width="1.2" height="1.0"/><rect x="910.3" y="347.3" width="1.0" height="0.7"/><rect x="959.1" y="396.5" width="1.1" height="0.7"/><rect x="929.1" y="419.7" width="0.6" height="0.7"/><rect x="934.9" y="433.2" width="0.9" height="0.8"/><rect x="984.1" y="376.9" width="1.2" height="0.9"/><rect x="980.6" y="393.1" width="0.9" height="1.0"/><rect x="917.4" y="425.3" width="1.0" height="0.7"/><rect x="955.8" y="372.9" width="1.2" height="0.7"/><rect x="970.3" y="386.2" width="1.1" height="1.1"/><rect x="984.6" y="387.1" width="0.9" height="1.0"/><rect x="960.7" y="422.7" width="0.8" height="1.0"/><rect x="941.0" y="441.3" width="0.8" height="0.7"/><rect x="932.1" y="347.8" width="0.7" height="0.9"/><rect x="988.9" y="410.6" width="1.1" height="1.0"/><rect x="921.1" y="361.5" width="0.9" height="0.8"/><rect x="957.6" y="375.4" width="1.2" height="0.6"/><rect x="952.7" y="414.1" width="1.2" height="0.9"/><rect x="905.8" y="422.9" width="0.8" height="0.8"/><rect x="896.2" y="376.3" width="1.1" height="0.9"/><rect x="925.8" y="412.5" width="0.7" height="1.0"/><rect x="918.9" y="344.2" width="0.7" height="0.8"/><rect x="951.1" y="343.1" width="0.7" height="0.8"/><rect x="965.6" y="367.6" width="0.7" height="0.8"/><rect x="929.5" y="335.9" width="0.7" height="0.7"/><rect x="945.2" y="418.6" width="1.0" height="0.7"/><rect x="933.0" y="407.9" width="1.3" height="1.0"/><rect x="989.6" y="419.4" width="0.7" height="0.8"/><rect x="995.3" y="380.8" width="1.1" height="0.8"/><rect x="959.8" y="429.0" width="0.7" height="0.7"/><rect x="936.7" y="392.8" width="0.9" height="1.0"/><rect x="930.7" y="348.2" width="1.0" height="0.8"/><rect x="972.5" y="420.4" width="0.9" height="1.0"/><rect x="976.0" y="365.6" width="1.0" height="1.0"/><rect x="920.7" y="399.0" width="1.1" height="1.0"/><rect x="951.9" y="338.9" width="1.2" height="0.9"/><rect x="920.5" y="356.2" width="0.8" height="0.9"/><rect x="974.9" y="407.3" width="1.1" height="1.0"/><rect x="925.1" y="365.3" width="0.9" height="0.8"/><rect x="918.4" y="360.8" width="1.1" height="1.1"/><rect x="963.5" y="428.1" width="1.1" height="0.8"/><rect x="888.5" y="389.6" width="0.6" height="0.9"/><rect x="971.5" y="428.7" width="1.3" height="0.9"/><rect x="979.5" y="411.6" width="1.0" height="1.0"/><rect x="899.3" y="382.5" width="1.2" height="0.9"/><rect x="897.8" y="415.6" width="0.7" height="0.9"/><rect x="905.9" y="417.1" width="0.7" height="1.1"/><rect x="936.4" y="396.7" width="0.8" height="0.8"/><rect x="981.4" y="389.1" width="0.9" height="0.9"/><rect x="927.1" y="409.5" width="0.8" height="1.0"/><rect x="983.2" y="370.7" width="0.8" height="1.0"/><rect x="924.3" y="402.5" width="0.7" height="1.0"/><rect x="961.3" y="343.7" width="0.9" height="0.9"/><rect x="953.1" y="441.3" width="0.8" height="0.9"/><rect x="966.3" y="339.2" width="0.9" height="0.7"/><rect x="925.5" y="380.0" width="1.2" height="0.8"/><rect x="962.1" y="362.2" width="0.9" height="0.7"/><rect x="922.7" y="397.0" width="0.6" height="1.0"/><rect x="939.2" y="413.7" width="0.8" height="0.8"/><rect x="903.7" y="405.8" width="1.1" height="0.8"/><rect x="992.2" y="363.2" width="0.6" height="1.0"/><rect x="986.6" y="357.8" width="0.7" height="1.0"/><rect x="940.0" y="380.8" width="0.6" height="1.1"/><rect x="928.8" y="362.3" width="0.7" height="0.7"/><rect x="949.9" y="436.0" width="0.8" height="0.7"/><rect x="986.5" y="357.3" width="0.7" height="1.0"/><rect x="905.6" y="354.3" width="1.1" height="1.0"/><rect x="957.1" y="335.3" width="0.7" height="0.9"/><rect x="896.5" y="376.6" width="0.9" height="1.0"/><rect x="917.1" y="376.1" width="0.8" height="0.7"/><rect x="930.9" y="386.6" width="0.9" height="0.7"/><rect x="904.5" y="388.2" width="1.0" height="1.0"/><rect x="996.9" y="388.2" width="0.9" height="0.9"/><rect x="918.2" y="341.0" width="0.9" height="0.8"/><rect x="959.9" y="382.2" width="1.0" height="0.9"/><rect x="988.5" y="393.9" width="1.1" height="1.1"/><rect x="917.4" y="435.4" width="1.0" height="0.8"/><rect x="953.1" y="379.7" width="1.1" height="0.9"/><rect x="916.7" y="430.9" width="0.9" height="0.8"/><rect x="895.3" y="378.0" width="0.7" height="0.8"/><rect x="907.2" y="405.9" width="1.2" height="0.7"/><rect x="961.7" y="354.0" width="1.0" height="0.7"/><rect x="888.5" y="383.7" width="1.1" height="1.0"/><rect x="929.1" y="414.0" width="0.8" height="0.9"/><rect x="911.3" y="348.2" width="0.6" height="1.0"/><rect x="976.4" y="358.3" width="0.6" height="0.8"/><rect x="969.5" y="387.0" width="1.2" height="0.9"/><rect x="917.0" y="343.6" width="1.2" height="0.9"/><rect x="911.2" y="355.8" width="1.1" height="0.9"/><rect x="933.7" y="362.2" width="1.1" height="0.8"/><rect x="946.1" y="367.9" width="0.7" height="0.6"/><rect x="953.1" y="332.1" width="1.1" height="0.8"/><rect x="967.0" y="340.6" width="1.0" height="0.7"/><rect x="932.8" y="421.1" width="0.8" height="0.8"/><rect x="910.1" y="343.2" width="0.6" height="0.9"/><rect x="963.8" y="390.8" width="1.2" height="0.9"/><rect x="977.9" y="367.4" width="0.6" height="0.8"/><rect x="898.5" y="355.8" width="1.3" height="0.8"/><rect x="929.2" y="395.5" width="1.1" height="0.7"/><rect x="948.8" y="391.8" width="0.6" height="0.9"/><rect x="985.1" y="424.8" width="0.7" height="1.0"/><rect x="949.9" y="391.5" width="1.1" height="0.7"/><rect x="942.2" y="361.5" width="0.6" height="1.0"/><rect x="932.7" y="334.7" width="1.1" height="0.6"/><rect x="911.5" y="351.3" width="0.9" height="1.1"/><rect x="943.3" y="442.0" width="1.1" height="0.6"/><rect x="990.5" y="390.2" width="1.2" height="0.6"/><rect x="926.5" y="431.1" width="0.7" height="1.0"/><rect x="930.8" y="387.2" width="0.9" height="0.9"/><rect x="901.2" y="403.6" width="0.7" height="1.0"/><rect x="914.8" y="420.7" width="1.0" height="0.8"/><rect x="906.6" y="419.2" width="1.3" height="1.0"/><rect x="916.6" y="373.4" width="0.6" height="1.1"/><rect x="929.7" y="336.4" width="0.8" height="0.9"/><rect x="996.1" y="378.7" width="1.0" height="0.8"/><rect x="896.3" y="409.3" width="0.9" height="0.9"/><rect x="901.4" y="353.8" width="1.2" height="0.7"/><rect x="973.9" y="386.3" width="0.9" height="0.9"/><rect x="966.3" y="336.9" width="0.6" height="1.0"/><rect x="964.8" y="336.9" width="1.0" height="0.7"/><rect x="975.1" y="344.8" width="1.1" height="1.1"/><rect x="935.2" y="399.6" width="1.0" height="1.0"/><rect x="959.8" y="433.0" width="1.3" height="0.7"/><rect x="908.0" y="356.8" width="0.9" height="0.7"/><rect x="943.2" y="435.4" width="1.2" height="0.8"/><rect x="988.3" y="412.8" width="1.1" height="0.7"/><rect x="897.3" y="360.1" width="1.2" height="0.9"/><rect x="901.4" y="392.4" width="0.7" height="0.7"/><rect x="964.8" y="429.3" width="0.9" height="0.9"/><rect x="911.2" y="409.6" width="0.7" height="0.6"/><rect x="979.6" y="385.4" width="0.7" height="0.9"/><rect x="949.9" y="364.1" width="1.0" height="0.8"/><rect x="936.6" y="385.0" width="0.6" height="1.1"/><rect x="971.2" y="356.4" width="1.0" height="0.7"/><rect x="951.5" y="349.4" width="1.3" height="1.0"/><rect x="968.1" y="335.2" width="0.8" height="0.6"/><rect x="952.0" y="409.1" width="0.7" height="0.6"/><rect x="894.9" y="367.2" width="0.9" height="1.1"/><rect x="956.9" y="378.3" width="1.0" height="0.8"/><rect x="985.4" y="424.2" width="0.8" height="0.9"/><rect x="909.3" y="342.9" width="1.1" height="0.8"/><rect x="923.1" y="393.3" width="1.3" height="1.1"/><rect x="946.7" y="397.0" width="0.8" height="0.8"/><rect x="989.1" y="354.9" width="1.2" height="0.6"/><rect x="955.6" y="339.2" width="1.1" height="1.1"/><rect x="965.1" y="393.4" width="1.1" height="1.1"/><rect x="930.9" y="358.1" width="1.0" height="1.0"/><rect x="970.3" y="406.0" width="0.8" height="0.7"/><rect x="921.5" y="388.7" width="0.8" height="0.7"/><rect x="941.9" y="380.2" width="1.1" height="0.7"/><rect x="998.2" y="398.3" width="0.8" height="1.1"/><rect x="980.7" y="346.1" width="0.7" height="0.8"/><rect x="989.7" y="417.4" width="1.2" height="0.9"/><rect x="913.0" y="395.8" width="1.2" height="0.8"/><rect x="929.8" y="370.5" width="0.8" height="0.6"/><rect x="935.1" y="344.7" width="0.7" height="1.0"/><rect x="940.9" y="422.4" width="0.7" height="0.7"/><rect x="962.3" y="358.1" width="0.7" height="0.8"/><rect x="922.2" y="435.3" width="0.7" height="1.1"/><rect x="995.2" y="404.9" width="1.1" height="0.7"/><rect x="914.5" y="390.3" width="0.8" height="0.7"/><rect x="907.4" y="428.7" width="1.3" height="1.1"/><rect x="969.8" y="403.6" width="1.2" height="0.6"/><rect x="940.2" y="355.5" width="1.3" height="0.6"/><rect x="956.4" y="354.8" width="0.7" height="0.6"/><rect x="965.1" y="350.0" width="0.7" height="0.8"/><rect x="967.4" y="372.0" width="1.0" height="0.7"/><rect x="966.0" y="431.3" width="1.1" height="0.7"/><rect x="959.5" y="394.1" width="1.0" height="0.8"/><rect x="940.8" y="411.6" width="1.0" height="1.0"/><rect x="961.1" y="345.7" width="0.7" height="0.6"/><rect x="940.8" y="349.8" width="1.1" height="0.6"/><rect x="957.0" y="355.4" width="1.2" height="1.0"/><rect x="937.6" y="386.3" width="1.2" height="0.8"/><rect x="965.1" y="364.8" width="0.7" height="1.0"/><rect x="929.2" y="403.1" width="0.9" height="0.9"/><rect x="985.8" y="387.2" width="0.9" height="0.9"/><rect x="979.7" y="419.2" width="1.2" height="1.0"/><rect x="924.0" y="429.4" width="0.9" height="1.0"/><rect x="994.1" y="406.0" width="1.3" height="0.8"/><rect x="903.3" y="382.5" width="1.0" height="0.6"/><rect x="971.1" y="380.5" width="0.7" height="0.7"/><rect x="944.6" y="437.5" width="0.6" height="0.6"/><rect x="936.8" y="362.1" width="0.6" height="0.9"/><rect x="908.2" y="366.9" width="1.1" height="0.7"/><rect x="977.6" y="350.7" width="0.6" height="0.7"/><rect x="904.4" y="387.6" width="0.8" height="0.7"/><rect x="927.2" y="397.8" width="1.0" height="1.0"/><rect x="970.7" y="420.5" width="1.1" height="0.7"/><rect x="970.1" y="337.0" width="0.9" height="0.8"/><rect x="966.8" y="351.1" width="0.9" height="1.1"/><rect x="950.3" y="353.3" width="0.8" height="0.8"/><rect x="892.8" y="408.2" width="1.2" height="1.1"/><rect x="965.6" y="337.8" width="0.6" height="0.9"/><rect x="997.9" y="371.6" width="0.8" height="0.8"/><rect x="921.6" y="360.5" width="1.0" height="0.6"/><rect x="907.7" y="402.5" width="0.6" height="0.7"/><rect x="994.0" y="376.5" width="1.3" height="0.9"/><rect x="964.2" y="336.1" width="1.2" height="0.6"/><rect x="926.2" y="363.2" width="1.1" height="0.7"/><rect x="891.8" y="371.6" width="1.0" height="0.7"/><rect x="907.5" y="381.2" width="1.3" height="0.7"/><rect x="929.1" y="429.1" width="0.7" height="0.9"/><rect x="984.0" y="374.9" width="0.8" height="0.8"/><rect x="923.2" y="381.4" width="0.7" height="0.7"/><rect x="934.9" y="421.0" width="0.8" height="0.7"/><rect x="980.6" y="408.1" width="1.2" height="0.9"/><rect x="903.1" y="366.4" width="0.7" height="1.0"/><rect x="903.8" y="396.3" width="1.0" height="0.8"/><rect x="934.3" y="412.1" width="0.8" height="0.9"/><rect x="912.3" y="415.2" width="0.6" height="0.8"/><rect x="962.7" y="364.8" width="1.0" height="0.8"/><rect x="932.4" y="441.3" width="0.8" height="1.0"/><rect x="952.7" y="398.4" width="1.2" height="0.8"/><rect x="977.5" y="399.5" width="0.9" height="1.0"/><rect x="965.6" y="403.1" width="1.3" height="1.0"/><rect x="963.4" y="413.3" width="0.8" height="0.9"/><rect x="905.6" y="350.9" width="1.2" height="0.9"/><rect x="941.2" y="337.0" width="1.1" height="0.8"/><rect x="955.1" y="339.2" width="1.2" height="0.7"/><rect x="947.3" y="383.3" width="1.1" height="0.9"/><rect x="888.8" y="386.7" width="1.0" height="0.8"/><rect x="955.9" y="333.9" width="1.0" height="0.8"/><rect x="907.8" y="397.4" width="1.1" height="0.7"/><rect x="911.9" y="412.9" width="0.9" height="0.8"/><rect x="956.8" y="334.9" width="0.9" height="0.8"/><rect x="957.3" y="414.8" width="0.7" height="0.9"/><rect x="930.0" y="377.7" width="1.2" height="0.8"/><rect x="973.6" y="342.5" width="1.3" height="0.7"/><rect x="896.0" y="410.3" width="0.6" height="0.6"/><rect x="907.8" y="370.1" width="1.2" height="1.0"/><rect x="889.4" y="372.4" width="1.0" height="0.9"/><rect x="930.6" y="353.3" width="0.9" height="0.9"/><rect x="911.8" y="430.7" width="1.1" height="0.9"/></g>
<polygon points="880.0,440.0 940.0,450.0 1010.0,420.0 1010.0,395.0 960.0,412.0 905.0,428.0" fill="#f7f7f6" opacity="0.8"/>
<line x1="946" y1="324" x2="1010" y2="388" stroke="#bdbcb8" stroke-width="1"/>
<line x1="884" y1="372" x2="975" y2="346" stroke="#bdbcb8" stroke-width="1"/>
<line x1="889" y1="380" x2="934" y2="408" stroke="#bdbcb8" stroke-width="1"/>
<line x1="900" y1="428" x2="962" y2="410" stroke="#bdbcb8" stroke-width="1"/>
<line x1="962" y1="410" x2="1008" y2="394" stroke="#bdbcb8" stroke-width="1"/>
<line x1="962" y1="410" x2="990" y2="446" stroke="#bdbcb8" stroke-width="1"/>
<g transform="rotate(7 946 387)">
<ellipse cx="946" cy="386.7" rx="36" ry="20.4" fill="url(#chrome)"/>
<ellipse cx="945.4" cy="387.4" rx="33.6" ry="18.6" fill="#191919"/>
<ellipse cx="943.6" cy="392.6" rx="23.4" ry="11" fill="url(#domew)"/>
<ellipse cx="943.6" cy="392.6" rx="23.4" ry="11" fill="none" stroke="#8a8a88" stroke-width="0.6"/>
</g>
</g>
</g>
</svg>
</body></html>
